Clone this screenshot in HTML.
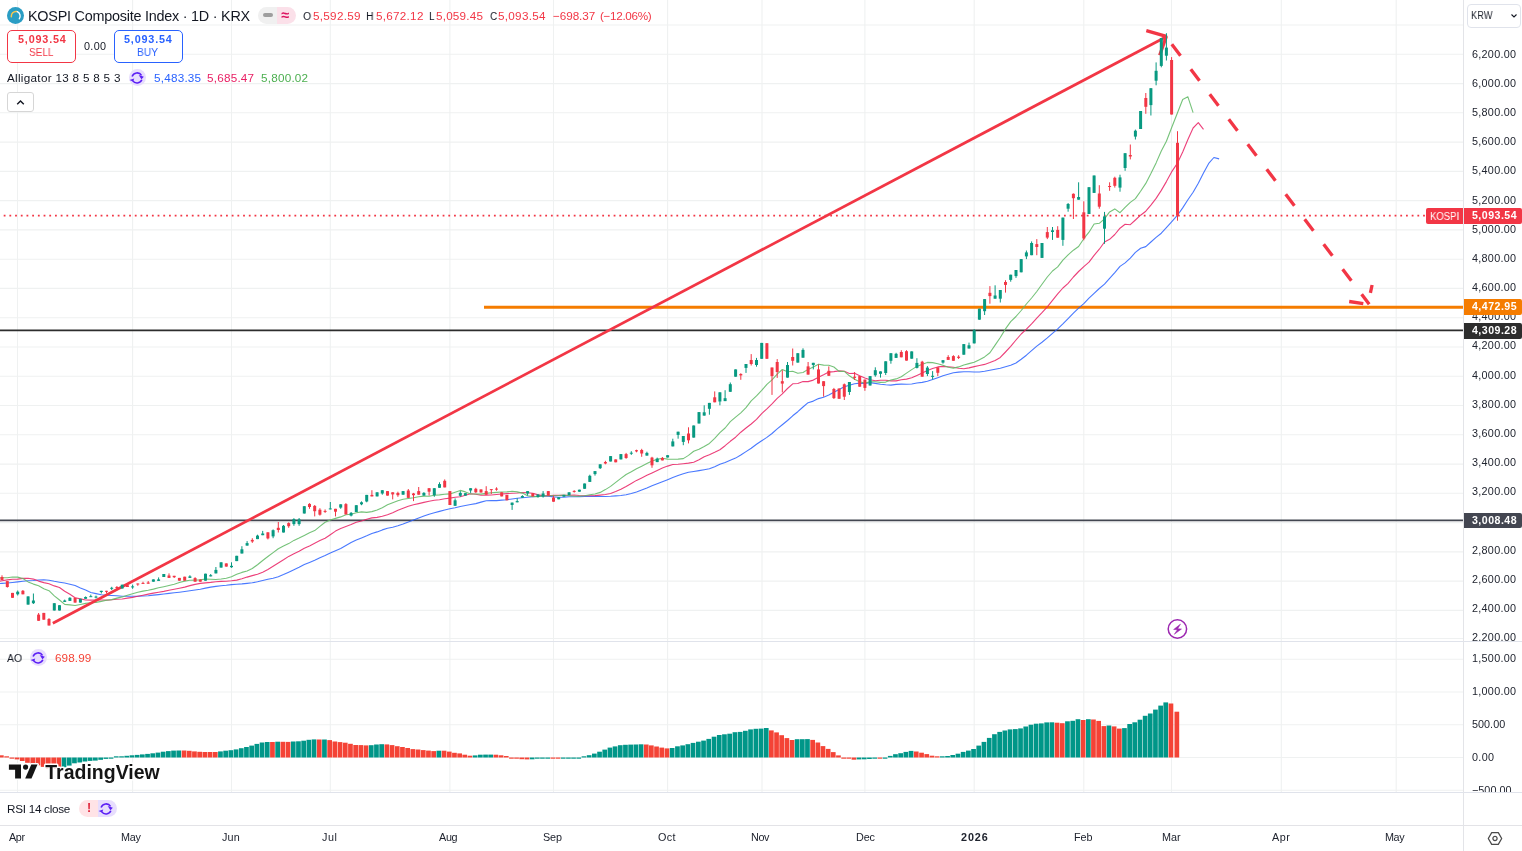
<!DOCTYPE html>
<html><head><meta charset="utf-8"><title>KOSPI Composite Index</title>
<style>
html,body{margin:0;padding:0;background:#fff;}
body{width:1522px;height:851px;position:relative;overflow:hidden;font-family:"Liberation Sans",sans-serif;color:#131722;}
.t{position:absolute;white-space:nowrap;line-height:1;will-change:transform;}
.pane{position:absolute;overflow:hidden;}
.lab{position:absolute;height:15.6px;border-radius:0 2px 2px 0;}
.b{position:absolute;box-sizing:border-box;}
</style></head><body>
<svg width="1522" height="851" viewBox="0 0 1522 851" style="position:absolute;left:0;top:0;will-change:transform">
<g stroke="#EFF1F1" stroke-width="1.1">
<line x1="17.5" y1="0" x2="17.5" y2="792"/>
<line x1="132.6" y1="0" x2="132.6" y2="792"/>
<line x1="231.5" y1="0" x2="231.5" y2="792"/>
<line x1="330.3" y1="0" x2="330.3" y2="792"/>
<line x1="449.9" y1="0" x2="449.9" y2="792"/>
<line x1="553.5" y1="0" x2="553.5" y2="792"/>
<line x1="667.6" y1="0" x2="667.6" y2="792"/>
<line x1="762.0" y1="0" x2="762.0" y2="792"/>
<line x1="864.9" y1="0" x2="864.9" y2="792"/>
<line x1="974.2" y1="0" x2="974.2" y2="792"/>
<line x1="1083.8" y1="0" x2="1083.8" y2="792"/>
<line x1="1171.5" y1="0" x2="1171.5" y2="792"/>
<line x1="1281.3" y1="0" x2="1281.3" y2="792"/>
<line x1="1396.2" y1="0" x2="1396.2" y2="792"/>
<line x1="0" y1="638.5" x2="1463" y2="638.5"/>
<line x1="0" y1="610.4" x2="1463" y2="610.4"/>
<line x1="0" y1="581.1" x2="1463" y2="581.1"/>
<line x1="0" y1="551.9" x2="1463" y2="551.9"/>
<line x1="0" y1="522.6" x2="1463" y2="522.6"/>
<line x1="0" y1="493.3" x2="1463" y2="493.3"/>
<line x1="0" y1="464.1" x2="1463" y2="464.1"/>
<line x1="0" y1="434.8" x2="1463" y2="434.8"/>
<line x1="0" y1="405.5" x2="1463" y2="405.5"/>
<line x1="0" y1="376.2" x2="1463" y2="376.2"/>
<line x1="0" y1="347.0" x2="1463" y2="347.0"/>
<line x1="0" y1="317.7" x2="1463" y2="317.7"/>
<line x1="0" y1="288.4" x2="1463" y2="288.4"/>
<line x1="0" y1="259.2" x2="1463" y2="259.2"/>
<line x1="0" y1="229.9" x2="1463" y2="229.9"/>
<line x1="0" y1="200.6" x2="1463" y2="200.6"/>
<line x1="0" y1="171.4" x2="1463" y2="171.4"/>
<line x1="0" y1="142.1" x2="1463" y2="142.1"/>
<line x1="0" y1="112.8" x2="1463" y2="112.8"/>
<line x1="0" y1="83.6" x2="1463" y2="83.6"/>
<line x1="0" y1="54.3" x2="1463" y2="54.3"/>
<line x1="0" y1="25.0" x2="1463" y2="25.0"/>
<line x1="0" y1="790.2" x2="1463" y2="790.2"/>
<line x1="0" y1="757.5" x2="1463" y2="757.5"/>
<line x1="0" y1="724.8" x2="1463" y2="724.8"/>
<line x1="0" y1="692.0" x2="1463" y2="692.0"/>
<line x1="0" y1="659.2" x2="1463" y2="659.2"/>
</g>
<clipPath id="mp"><rect x="0" y="0" width="1463" height="641"/></clipPath>
<g clip-path="url(#mp)">
<line x1="0" y1="520.35" x2="1463" y2="520.35" stroke="#434651" stroke-width="1.8"/>
<line x1="0" y1="330.4" x2="1463" y2="330.4" stroke="#2D2D2D" stroke-width="1.7"/>
<line x1="484" y1="307.25" x2="1463" y2="307.25" stroke="#F57C00" stroke-width="2.9"/>
<path d="M-8.4 583.8 L-3.2 583.8 L2.0 583.4 L7.3 583.0 L12.5 582.5 L17.7 581.9 L22.9 581.2 L28.1 580.8 L33.4 580.5 L38.6 580.0 L43.8 579.8 L49.0 580.2 L54.3 581.3 L59.5 582.2 L64.7 583.0 L69.9 584.3 L75.1 585.5 L80.4 587.9 L85.6 590.1 L90.8 592.5 L96.0 593.6 L101.3 594.7 L106.5 595.2 L111.7 595.5 L116.9 595.8 L122.2 596.2 L127.4 596.3 L132.6 596.3 L137.8 596.3 L143.0 596.0 L148.2 595.7 L153.4 595.1 L158.6 594.6 L163.8 594.0 L169.0 593.4 L174.2 592.8 L179.4 592.2 L184.7 591.5 L189.9 590.8 L195.1 590.0 L200.3 589.2 L205.5 588.1 L210.7 587.1 L215.9 586.4 L221.1 585.8 L226.3 585.3 L231.5 584.6 L236.7 584.2 L241.9 583.9 L247.1 583.4 L252.3 582.8 L257.5 581.8 L262.7 580.5 L267.9 579.3 L273.1 578.2 L278.3 576.7 L283.5 574.6 L288.7 572.2 L293.9 569.8 L299.1 567.3 L304.3 564.6 L309.5 562.4 L314.7 560.2 L319.9 557.7 L325.1 555.5 L330.3 553.1 L335.5 550.7 L340.7 548.5 L345.9 545.5 L351.1 542.5 L356.3 540.0 L361.5 537.9 L366.7 535.8 L371.9 533.5 L377.1 531.9 L382.3 529.9 L387.5 528.3 L392.7 527.2 L397.9 525.8 L403.1 524.1 L408.3 522.1 L413.5 519.9 L418.7 517.9 L423.9 516.0 L429.1 514.2 L434.3 512.8 L439.5 511.4 L444.7 510.0 L449.9 508.7 L455.1 507.8 L460.3 506.5 L465.4 505.5 L470.6 504.5 L475.8 503.6 L481.0 502.1 L486.2 500.7 L491.3 500.5 L496.5 500.6 L501.7 500.1 L506.9 499.7 L512.1 499.0 L517.2 498.3 L522.4 497.7 L527.6 497.2 L532.8 496.7 L538.0 496.1 L543.1 496.0 L548.3 496.1 L553.5 496.9 L558.7 497.2 L563.9 497.1 L569.1 496.8 L574.2 496.7 L579.4 496.6 L584.6 496.4 L589.8 496.2 L595.0 496.4 L600.2 496.5 L605.4 496.5 L610.6 496.3 L615.7 495.9 L620.9 495.5 L626.1 494.8 L631.3 493.5 L636.5 492.0 L641.7 490.0 L646.9 487.9 L652.0 485.7 L657.2 483.7 L662.4 481.7 L667.6 479.7 L672.8 477.6 L678.1 475.6 L683.3 473.8 L688.5 472.3 L693.7 471.5 L699.0 470.6 L704.2 469.7 L709.4 468.7 L714.7 466.7 L719.9 464.2 L725.1 462.4 L730.3 460.3 L735.6 458.1 L740.8 455.0 L746.0 451.6 L751.2 448.3 L756.5 444.3 L761.7 440.8 L766.9 437.4 L772.0 433.5 L777.2 428.9 L782.3 424.8 L787.5 420.5 L792.7 415.8 L797.8 411.7 L803.0 407.0 L808.1 402.7 L813.3 401.1 L818.5 398.6 L823.6 397.2 L828.8 395.1 L833.9 392.2 L839.1 389.5 L844.3 386.7 L849.4 385.3 L854.6 383.8 L859.7 383.1 L864.9 383.5 L870.1 382.6 L875.3 383.4 L880.5 384.2 L885.7 384.8 L890.9 385.1 L896.1 384.4 L901.3 384.1 L906.5 384.2 L911.7 384.0 L916.9 383.0 L922.2 382.4 L927.4 381.3 L932.6 379.5 L937.8 377.7 L943.0 375.8 L948.2 374.3 L953.4 372.8 L958.6 372.1 L963.8 371.8 L969.0 371.7 L974.2 372.0 L979.4 372.0 L984.6 371.2 L989.9 370.2 L995.1 369.2 L1000.3 368.3 L1005.5 366.8 L1010.7 365.2 L1016.0 363.0 L1021.2 359.2 L1026.4 355.2 L1031.6 350.6 L1036.8 346.1 L1042.0 342.2 L1047.3 337.9 L1052.5 333.3 L1057.7 328.8 L1062.9 323.9 L1068.1 318.6 L1073.4 313.2 L1078.6 308.1 L1083.8 303.7 L1089.0 298.2 L1094.1 293.3 L1099.3 288.5 L1104.5 284.2 L1109.6 278.3 L1114.8 272.7 L1120.0 266.4 L1125.1 262.9 L1130.3 258.1 L1135.4 252.4 L1140.6 248.2 L1145.8 246.6 L1150.9 242.0 L1156.1 237.4 L1161.3 233.2 L1166.4 227.7 L1171.6 221.9 L1177.5 215.2 L1182.7 207.9 L1187.9 199.8 L1193.1 192.3 L1198.3 183.2 L1203.5 173.1 L1208.7 163.4 L1213.9 157.5 L1219.1 158.9" fill="none" stroke="#2962FF" stroke-width="1.1" stroke-opacity=".85" stroke-linejoin="round"/>
<path d="M-8.4 582.5 L-3.2 581.6 L2.0 580.8 L7.3 579.9 L12.5 579.3 L17.7 579.1 L22.9 578.4 L28.1 578.3 L33.4 579.1 L38.6 581.1 L43.8 582.6 L49.0 583.8 L54.3 585.9 L59.5 587.5 L64.7 591.2 L69.9 594.3 L75.1 597.7 L80.4 598.9 L85.6 600.0 L90.8 600.1 L96.0 600.0 L101.3 600.0 L106.5 600.1 L111.7 599.8 L116.9 599.3 L122.2 599.0 L127.4 598.1 L132.6 597.4 L137.8 596.3 L143.0 595.2 L148.2 594.1 L153.4 593.1 L158.6 592.3 L163.8 591.4 L169.0 590.3 L174.2 589.3 L179.4 588.2 L184.7 587.1 L189.9 585.6 L195.1 584.4 L200.3 583.4 L205.5 582.9 L210.7 582.4 L215.9 581.7 L221.1 581.4 L226.3 581.3 L231.5 580.8 L236.7 580.1 L241.9 578.8 L247.1 577.1 L252.3 575.6 L257.5 574.3 L262.7 572.3 L267.9 569.5 L273.1 566.2 L278.3 563.0 L283.5 559.8 L288.7 556.4 L293.9 553.8 L299.1 551.3 L304.3 548.3 L309.5 545.9 L314.7 543.3 L319.9 540.6 L325.1 538.3 L330.3 534.7 L335.5 531.1 L340.7 528.6 L345.9 526.5 L351.1 524.6 L356.3 522.2 L361.5 521.0 L366.7 519.2 L371.9 517.9 L377.1 517.4 L382.3 516.3 L387.5 514.7 L392.7 512.7 L397.9 510.3 L403.1 508.3 L408.3 506.3 L413.5 504.7 L418.7 503.6 L423.9 502.4 L429.1 501.2 L434.3 500.3 L439.5 499.8 L444.7 498.7 L449.9 498.1 L455.1 497.3 L460.3 496.7 L465.4 495.3 L470.6 493.8 L475.8 494.3 L481.0 495.3 L486.2 495.1 L491.3 495.0 L496.5 494.5 L501.7 494.0 L506.9 493.6 L512.1 493.2 L517.2 493.0 L522.4 492.5 L527.6 492.7 L532.8 493.3 L538.0 494.9 L543.1 495.6 L548.3 495.7 L553.5 495.4 L558.7 495.3 L563.9 495.4 L569.1 495.3 L574.2 495.0 L579.4 495.5 L584.6 495.8 L589.8 495.8 L595.0 495.6 L600.2 495.1 L605.4 494.5 L610.6 493.5 L615.7 491.6 L620.9 489.3 L626.1 486.5 L631.3 483.5 L636.5 480.4 L641.7 477.9 L646.9 475.3 L652.0 472.9 L657.2 470.4 L662.4 468.0 L667.6 466.1 L672.8 464.5 L678.1 464.2 L683.3 463.7 L688.5 463.1 L693.7 462.2 L699.0 459.8 L704.2 456.7 L709.4 454.7 L714.7 452.3 L719.9 449.7 L725.1 445.7 L730.3 441.3 L735.6 437.2 L740.8 432.2 L746.0 428.0 L751.2 424.0 L756.5 419.4 L761.7 413.6 L766.9 408.9 L772.0 403.9 L777.2 398.4 L782.3 393.9 L787.5 388.5 L792.7 383.8 L797.8 383.5 L803.0 381.6 L808.1 381.6 L813.3 380.1 L818.5 377.2 L823.6 374.8 L828.8 372.1 L833.9 371.6 L839.1 370.9 L844.3 371.3 L849.4 373.5 L854.6 373.2 L859.7 375.7 L864.9 378.0 L870.1 379.7 L875.3 380.8 L880.5 380.2 L885.7 380.3 L890.9 380.9 L896.1 380.9 L901.3 379.8 L906.5 379.1 L911.7 377.8 L916.9 375.4 L922.2 372.9 L927.4 370.5 L932.6 368.6 L937.8 366.9 L943.0 366.4 L948.2 366.7 L953.4 367.3 L958.6 368.3 L963.8 368.7 L969.0 367.9 L974.2 366.6 L979.4 365.5 L984.6 364.4 L989.9 362.6 L995.1 360.4 L1000.3 357.4 L1005.5 352.0 L1010.7 346.4 L1016.0 340.0 L1021.2 334.0 L1026.4 329.2 L1031.6 323.9 L1036.8 318.2 L1042.0 312.7 L1047.3 306.8 L1052.5 300.3 L1057.7 293.8 L1062.9 288.0 L1068.1 283.3 L1073.4 277.0 L1078.6 271.5 L1083.8 266.6 L1089.0 262.2 L1094.1 255.4 L1099.3 249.2 L1104.5 242.0 L1109.6 239.3 L1114.8 234.5 L1120.0 228.2 L1125.1 224.3 L1130.3 224.7 L1135.4 220.0 L1140.6 215.2 L1145.8 211.2 L1150.9 205.1 L1156.1 198.4 L1161.3 190.4 L1166.4 181.6 L1171.6 171.9 L1177.5 163.1 L1182.7 152.0 L1187.9 139.5 L1193.1 128.0 L1198.3 122.7 L1203.5 129.3" fill="none" stroke="#E91E63" stroke-width="1.1" stroke-opacity=".85" stroke-linejoin="round"/>
<path d="M-8.4 579.6 L-3.2 578.4 L2.0 577.8 L7.3 577.8 L12.5 577.0 L17.7 577.1 L22.9 578.5 L28.1 581.9 L33.4 584.1 L38.6 585.7 L43.8 588.7 L49.0 590.7 L54.3 595.9 L59.5 600.0 L64.7 604.4 L69.9 604.9 L75.1 605.5 L80.4 604.5 L85.6 603.4 L90.8 602.8 L96.0 602.4 L101.3 601.4 L106.5 600.3 L111.7 599.6 L116.9 598.1 L122.2 596.9 L127.4 595.2 L132.6 593.7 L137.8 592.3 L143.0 591.1 L148.2 590.2 L153.4 589.1 L158.6 587.8 L163.8 586.7 L169.0 585.5 L174.2 584.2 L179.4 582.5 L184.7 581.1 L189.9 580.3 L195.1 580.1 L200.3 579.8 L205.5 579.1 L210.7 579.2 L215.9 579.5 L221.1 579.0 L226.3 578.3 L231.5 576.7 L236.7 574.3 L241.9 572.4 L247.1 571.0 L252.3 568.5 L257.5 564.7 L262.7 560.5 L267.9 556.5 L273.1 552.6 L278.3 548.7 L283.5 546.1 L288.7 543.6 L293.9 540.4 L299.1 538.0 L304.3 535.4 L309.5 532.8 L314.7 530.6 L319.9 526.4 L325.1 522.3 L330.3 520.0 L335.5 518.4 L340.7 516.9 L345.9 514.7 L351.1 514.3 L356.3 512.7 L361.5 511.9 L366.7 512.4 L371.9 511.6 L377.1 510.0 L382.3 507.7 L387.5 504.8 L392.7 502.7 L397.9 500.7 L403.1 499.2 L408.3 498.5 L413.5 497.7 L418.7 496.7 L423.9 496.1 L429.1 496.3 L434.3 495.2 L439.5 494.9 L444.7 494.3 L449.9 493.9 L455.1 492.2 L460.3 490.4 L465.4 491.9 L470.6 494.0 L475.8 494.0 L481.0 494.1 L486.2 493.4 L491.3 492.8 L496.5 492.4 L501.7 492.0 L506.9 491.9 L512.1 491.3 L517.2 491.9 L522.4 493.1 L527.6 495.7 L532.8 496.6 L538.0 496.6 L543.1 495.9 L548.3 495.7 L553.5 495.7 L558.7 495.5 L563.9 495.0 L569.1 495.8 L574.2 496.3 L579.4 496.2 L584.6 495.7 L589.8 494.8 L595.0 494.0 L600.2 492.4 L605.4 489.6 L610.6 486.4 L615.7 482.4 L620.9 478.4 L626.1 474.5 L631.3 471.8 L636.5 468.8 L641.7 466.2 L646.9 463.6 L652.0 461.0 L657.2 459.4 L662.4 458.2 L667.6 459.1 L672.8 459.2 L678.1 459.1 L683.3 458.6 L688.5 455.4 L693.7 451.3 L699.0 449.2 L704.2 446.4 L709.4 443.4 L714.7 438.3 L719.9 432.7 L725.1 428.0 L730.3 421.7 L735.6 417.1 L740.8 412.8 L746.0 407.7 L751.2 400.8 L756.5 395.9 L761.7 390.4 L766.9 384.3 L772.0 379.9 L777.2 374.1 L782.3 369.5 L787.5 371.8 L792.7 371.2 L797.8 373.2 L803.0 372.5 L808.1 369.4 L813.3 367.1 L818.5 364.3 L823.6 365.1 L828.8 365.3 L833.9 367.0 L839.1 371.4 L844.3 371.3 L849.4 375.8 L854.6 379.3 L859.7 381.8 L864.9 383.1 L870.1 381.7 L875.3 381.7 L880.5 382.4 L885.7 382.1 L890.9 380.0 L896.1 378.9 L901.3 376.8 L906.5 373.1 L911.7 369.6 L916.9 366.4 L922.2 364.2 L927.4 362.4 L932.6 362.6 L937.8 363.8 L943.0 365.3 L948.2 367.3 L953.4 368.1 L958.6 366.9 L963.8 365.0 L969.0 363.6 L974.2 362.3 L979.4 359.7 L984.6 356.9 L989.9 352.8 L995.1 345.1 L1000.3 337.5 L1005.5 328.9 L1010.7 321.6 L1016.0 316.5 L1021.2 310.5 L1026.4 304.0 L1031.6 298.0 L1036.8 291.5 L1042.0 284.2 L1047.3 277.0 L1052.5 271.0 L1057.7 266.9 L1062.9 260.1 L1068.1 254.8 L1073.4 250.2 L1078.6 246.5 L1083.8 238.7 L1089.0 232.2 L1094.1 224.0 L1099.3 223.3 L1104.5 218.8 L1109.6 211.9 L1114.8 208.9 L1120.0 212.7 L1125.1 207.4 L1130.3 202.4 L1135.4 198.6 L1140.6 191.2 L1145.8 183.4 L1150.9 173.6 L1156.1 162.9 L1161.3 151.0 L1166.4 141.2 L1171.6 127.7 L1177.5 112.7 L1182.7 99.5 L1187.9 96.8 L1193.1 112.6" fill="none" stroke="#66BB6A" stroke-width="1.1" stroke-opacity=".9" stroke-linejoin="round"/>
<line x1="3.7" y1="215.6" x2="1426" y2="215.6" stroke="#F23645" stroke-width="1.8" stroke-dasharray="1.8 3.9004"/>
<g stroke="#F23645" stroke-width="3.3" fill="none">
<line x1="52.8" y1="623.3" x2="1165.8" y2="37.0" stroke-width="2.75"/>
<polyline points="1146.3,30.6 1166.3,36.4 1159.7,55.3" stroke-linejoin="bevel"/>
<line x1="1171.8" y1="44.2" x2="1369.2" y2="304.3" stroke-dasharray="14.4 17"/>
<line x1="1349.2" y1="301.5" x2="1363.3" y2="303.6"/>
<line x1="1370.4" y1="292.9" x2="1372.1" y2="285.0"/>
</g>
<rect x="1.5" y="575.3" width="1" height="4.7" fill="#F23645"/>
<rect x="0.5" y="577.0" width="3" height="3.0" fill="#F23645"/>
<rect x="6.8" y="581.1" width="1" height="6.5" fill="#F23645"/>
<rect x="5.8" y="581.1" width="3" height="5.9" fill="#F23645"/>
<rect x="12.0" y="592.9" width="1" height="4.9" fill="#F23645"/>
<rect x="11.0" y="592.9" width="3" height="4.9" fill="#F23645"/>
<rect x="17.2" y="590.5" width="1" height="5.0" fill="#089981"/>
<rect x="16.2" y="591.7" width="3" height="2.6" fill="#089981"/>
<rect x="22.4" y="590.0" width="1" height="4.3" fill="#F23645"/>
<rect x="21.4" y="590.8" width="3" height="3.5" fill="#F23645"/>
<rect x="27.6" y="596.4" width="1" height="8.2" fill="#089981"/>
<rect x="26.6" y="596.4" width="3" height="8.2" fill="#089981"/>
<rect x="32.9" y="593.5" width="1" height="10.5" fill="#089981"/>
<rect x="31.9" y="600.5" width="3" height="2.7" fill="#089981"/>
<rect x="38.1" y="613.0" width="1" height="7.8" fill="#F23645"/>
<rect x="37.1" y="614.6" width="3" height="6.2" fill="#F23645"/>
<rect x="43.3" y="612.9" width="1" height="6.8" fill="#F23645"/>
<rect x="42.3" y="612.9" width="3" height="6.8" fill="#F23645"/>
<rect x="48.5" y="618.1" width="1" height="7.4" fill="#F23645"/>
<rect x="47.5" y="619.0" width="3" height="6.5" fill="#F23645"/>
<rect x="53.8" y="603.2" width="1" height="7.3" fill="#089981"/>
<rect x="52.8" y="603.2" width="3" height="7.3" fill="#089981"/>
<rect x="59.0" y="605.2" width="1" height="5.3" fill="#089981"/>
<rect x="58.0" y="605.2" width="3" height="5.3" fill="#089981"/>
<rect x="64.2" y="599.6" width="1" height="2.3" fill="#089981"/>
<rect x="63.2" y="600.5" width="3" height="1.4" fill="#089981"/>
<rect x="69.4" y="597.2" width="1" height="3.7" fill="#089981"/>
<rect x="68.4" y="597.8" width="3" height="3.1" fill="#089981"/>
<rect x="74.6" y="597.8" width="1" height="4.8" fill="#F23645"/>
<rect x="73.6" y="597.8" width="3" height="4.8" fill="#F23645"/>
<rect x="79.9" y="598.8" width="1" height="3.8" fill="#089981"/>
<rect x="78.9" y="598.8" width="3" height="3.8" fill="#089981"/>
<rect x="85.1" y="596.4" width="1" height="2.4" fill="#089981"/>
<rect x="84.1" y="597.0" width="3" height="1.8" fill="#089981"/>
<rect x="90.3" y="594.6" width="1" height="2.3" fill="#089981"/>
<rect x="89.3" y="596.2" width="3" height="1.0" fill="#089981"/>
<rect x="95.5" y="595.6" width="1" height="2.8" fill="#089981"/>
<rect x="94.5" y="596.6" width="3" height="1.0" fill="#089981"/>
<rect x="100.8" y="590.8" width="1" height="2.7" fill="#089981"/>
<rect x="99.8" y="590.8" width="3" height="1.2" fill="#089981"/>
<rect x="106.0" y="590.8" width="1" height="2.7" fill="#F23645"/>
<rect x="105.0" y="590.8" width="3" height="1.0" fill="#F23645"/>
<rect x="111.2" y="586.8" width="1" height="3.2" fill="#089981"/>
<rect x="110.2" y="587.8" width="3" height="1.0" fill="#089981"/>
<rect x="116.4" y="586.0" width="1" height="3.4" fill="#F23645"/>
<rect x="115.4" y="587.0" width="3" height="1.0" fill="#F23645"/>
<rect x="121.7" y="584.7" width="1" height="3.8" fill="#089981"/>
<rect x="120.7" y="584.7" width="3" height="3.8" fill="#089981"/>
<rect x="126.9" y="585.2" width="1" height="1.8" fill="#F23645"/>
<rect x="125.9" y="585.2" width="3" height="1.8" fill="#F23645"/>
<rect x="132.1" y="584.6" width="1" height="4.2" fill="#089981"/>
<rect x="131.1" y="586.4" width="3" height="1.0" fill="#089981"/>
<rect x="137.3" y="583.5" width="1" height="2.3" fill="#F23645"/>
<rect x="136.3" y="583.5" width="3" height="1.0" fill="#F23645"/>
<rect x="142.5" y="581.7" width="1" height="2.0" fill="#F23645"/>
<rect x="141.5" y="582.9" width="3" height="1.0" fill="#F23645"/>
<rect x="147.7" y="581.0" width="1" height="2.7" fill="#F23645"/>
<rect x="146.7" y="582.5" width="3" height="1.2" fill="#F23645"/>
<rect x="152.9" y="579.4" width="1" height="2.3" fill="#089981"/>
<rect x="151.9" y="579.4" width="3" height="2.3" fill="#089981"/>
<rect x="158.1" y="577.4" width="1" height="3.5" fill="#089981"/>
<rect x="157.1" y="579.4" width="3" height="1.5" fill="#089981"/>
<rect x="163.3" y="574.0" width="1" height="3.0" fill="#089981"/>
<rect x="162.3" y="574.0" width="3" height="3.0" fill="#089981"/>
<rect x="168.5" y="573.4" width="1" height="4.5" fill="#F23645"/>
<rect x="167.5" y="575.5" width="3" height="2.4" fill="#F23645"/>
<rect x="173.7" y="575.8" width="1" height="2.2" fill="#F23645"/>
<rect x="172.7" y="575.8" width="3" height="1.4" fill="#F23645"/>
<rect x="178.9" y="577.9" width="1" height="2.8" fill="#F23645"/>
<rect x="177.9" y="577.9" width="3" height="2.8" fill="#F23645"/>
<rect x="184.2" y="576.7" width="1" height="4.0" fill="#F23645"/>
<rect x="183.2" y="576.7" width="3" height="4.0" fill="#F23645"/>
<rect x="189.4" y="575.2" width="1" height="2.7" fill="#089981"/>
<rect x="188.4" y="576.4" width="3" height="1.5" fill="#089981"/>
<rect x="194.6" y="577.2" width="1" height="4.5" fill="#F23645"/>
<rect x="193.6" y="578.1" width="3" height="3.6" fill="#F23645"/>
<rect x="199.8" y="579.5" width="1" height="2.2" fill="#F23645"/>
<rect x="198.8" y="579.5" width="3" height="2.2" fill="#F23645"/>
<rect x="205.0" y="573.7" width="1" height="7.0" fill="#089981"/>
<rect x="204.0" y="573.7" width="3" height="7.0" fill="#089981"/>
<rect x="210.2" y="574.0" width="1" height="2.4" fill="#089981"/>
<rect x="209.2" y="575.2" width="3" height="1.2" fill="#089981"/>
<rect x="215.4" y="567.0" width="1" height="6.4" fill="#089981"/>
<rect x="214.4" y="569.9" width="3" height="3.5" fill="#089981"/>
<rect x="220.6" y="562.3" width="1" height="5.3" fill="#089981"/>
<rect x="219.6" y="562.3" width="3" height="5.3" fill="#089981"/>
<rect x="225.8" y="563.4" width="1" height="3.2" fill="#F23645"/>
<rect x="224.8" y="563.4" width="3" height="3.2" fill="#F23645"/>
<rect x="231.0" y="562.3" width="1" height="5.5" fill="#089981"/>
<rect x="230.0" y="565.8" width="3" height="1.4" fill="#089981"/>
<rect x="236.2" y="555.8" width="1" height="5.3" fill="#089981"/>
<rect x="235.2" y="555.8" width="3" height="5.3" fill="#089981"/>
<rect x="241.4" y="546.2" width="1" height="7.3" fill="#089981"/>
<rect x="240.4" y="549.3" width="3" height="4.2" fill="#089981"/>
<rect x="246.6" y="541.1" width="1" height="4.5" fill="#089981"/>
<rect x="245.6" y="543.1" width="3" height="2.5" fill="#089981"/>
<rect x="251.8" y="538.2" width="1" height="4.7" fill="#F23645"/>
<rect x="250.8" y="539.9" width="3" height="1.6" fill="#F23645"/>
<rect x="257.0" y="534.7" width="1" height="4.4" fill="#089981"/>
<rect x="256.0" y="535.6" width="3" height="3.5" fill="#089981"/>
<rect x="262.2" y="530.9" width="1" height="4.3" fill="#089981"/>
<rect x="261.2" y="533.5" width="3" height="1.7" fill="#089981"/>
<rect x="267.4" y="532.3" width="1" height="7.1" fill="#F23645"/>
<rect x="266.4" y="532.3" width="3" height="6.1" fill="#F23645"/>
<rect x="272.6" y="529.4" width="1" height="8.8" fill="#089981"/>
<rect x="271.6" y="530.2" width="3" height="6.2" fill="#089981"/>
<rect x="277.8" y="522.0" width="1" height="10.5" fill="#F23645"/>
<rect x="276.8" y="527.8" width="3" height="2.2" fill="#F23645"/>
<rect x="283.0" y="525.0" width="1" height="7.5" fill="#089981"/>
<rect x="282.0" y="525.8" width="3" height="6.7" fill="#089981"/>
<rect x="288.2" y="522.3" width="1" height="5.5" fill="#F23645"/>
<rect x="287.2" y="523.1" width="3" height="3.1" fill="#F23645"/>
<rect x="293.4" y="518.2" width="1" height="7.6" fill="#089981"/>
<rect x="292.4" y="519.1" width="3" height="5.0" fill="#089981"/>
<rect x="298.6" y="518.0" width="1" height="7.8" fill="#089981"/>
<rect x="297.6" y="519.4" width="3" height="4.7" fill="#089981"/>
<rect x="303.8" y="506.2" width="1" height="7.3" fill="#089981"/>
<rect x="302.8" y="506.2" width="3" height="7.3" fill="#089981"/>
<rect x="309.0" y="503.2" width="1" height="5.6" fill="#F23645"/>
<rect x="308.0" y="503.9" width="3" height="3.1" fill="#F23645"/>
<rect x="314.2" y="505.0" width="1" height="11.4" fill="#F23645"/>
<rect x="313.2" y="505.9" width="3" height="5.3" fill="#F23645"/>
<rect x="319.4" y="508.2" width="1" height="7.4" fill="#F23645"/>
<rect x="318.4" y="509.7" width="3" height="5.0" fill="#F23645"/>
<rect x="324.6" y="509.4" width="1" height="3.5" fill="#F23645"/>
<rect x="323.6" y="510.9" width="3" height="1.0" fill="#F23645"/>
<rect x="329.8" y="502.0" width="1" height="7.4" fill="#089981"/>
<rect x="328.8" y="508.4" width="3" height="1.0" fill="#089981"/>
<rect x="335.0" y="508.8" width="1" height="7.6" fill="#F23645"/>
<rect x="334.0" y="508.8" width="3" height="2.9" fill="#F23645"/>
<rect x="340.2" y="504.3" width="1" height="4.5" fill="#089981"/>
<rect x="339.2" y="504.3" width="3" height="3.3" fill="#089981"/>
<rect x="345.4" y="503.1" width="1" height="11.3" fill="#F23645"/>
<rect x="344.4" y="504.1" width="3" height="10.3" fill="#F23645"/>
<rect x="350.6" y="512.0" width="1" height="4.4" fill="#089981"/>
<rect x="349.6" y="512.9" width="3" height="2.7" fill="#089981"/>
<rect x="355.8" y="505.2" width="1" height="6.8" fill="#089981"/>
<rect x="354.8" y="505.2" width="3" height="6.8" fill="#089981"/>
<rect x="361.0" y="501.4" width="1" height="3.8" fill="#089981"/>
<rect x="360.0" y="502.3" width="3" height="2.0" fill="#089981"/>
<rect x="366.2" y="494.9" width="1" height="7.4" fill="#089981"/>
<rect x="365.2" y="494.9" width="3" height="6.6" fill="#089981"/>
<rect x="371.4" y="490.2" width="1" height="6.2" fill="#F23645"/>
<rect x="370.4" y="494.9" width="3" height="1.5" fill="#F23645"/>
<rect x="376.6" y="492.3" width="1" height="4.1" fill="#089981"/>
<rect x="375.6" y="492.3" width="3" height="4.1" fill="#089981"/>
<rect x="381.8" y="490.2" width="1" height="4.5" fill="#089981"/>
<rect x="380.8" y="490.2" width="3" height="3.3" fill="#089981"/>
<rect x="387.0" y="491.1" width="1" height="4.5" fill="#F23645"/>
<rect x="386.0" y="491.1" width="3" height="4.5" fill="#F23645"/>
<rect x="392.2" y="492.3" width="1" height="7.1" fill="#F23645"/>
<rect x="391.2" y="492.3" width="3" height="2.1" fill="#F23645"/>
<rect x="397.4" y="491.7" width="1" height="5.1" fill="#F23645"/>
<rect x="396.4" y="492.9" width="3" height="2.3" fill="#F23645"/>
<rect x="402.6" y="491.1" width="1" height="3.6" fill="#089981"/>
<rect x="401.6" y="491.1" width="3" height="3.6" fill="#089981"/>
<rect x="407.8" y="489.0" width="1" height="8.9" fill="#F23645"/>
<rect x="406.8" y="490.5" width="3" height="7.4" fill="#F23645"/>
<rect x="413.0" y="492.9" width="1" height="8.2" fill="#F23645"/>
<rect x="412.0" y="493.5" width="3" height="1.7" fill="#F23645"/>
<rect x="418.2" y="487.0" width="1" height="7.7" fill="#F23645"/>
<rect x="417.2" y="491.1" width="3" height="3.6" fill="#F23645"/>
<rect x="423.4" y="492.1" width="1" height="3.5" fill="#089981"/>
<rect x="422.4" y="492.9" width="3" height="2.7" fill="#089981"/>
<rect x="428.6" y="488.2" width="1" height="7.4" fill="#F23645"/>
<rect x="427.6" y="488.2" width="3" height="3.5" fill="#F23645"/>
<rect x="433.8" y="488.2" width="1" height="8.6" fill="#089981"/>
<rect x="432.8" y="488.2" width="3" height="7.0" fill="#089981"/>
<rect x="439.0" y="482.3" width="1" height="5.5" fill="#089981"/>
<rect x="438.0" y="484.1" width="3" height="3.7" fill="#089981"/>
<rect x="444.2" y="479.4" width="1" height="8.0" fill="#F23645"/>
<rect x="443.2" y="480.8" width="3" height="6.6" fill="#F23645"/>
<rect x="449.4" y="491.1" width="1" height="13.9" fill="#F23645"/>
<rect x="448.4" y="491.1" width="3" height="13.9" fill="#F23645"/>
<rect x="454.6" y="498.4" width="1" height="7.4" fill="#089981"/>
<rect x="453.6" y="500.3" width="3" height="5.5" fill="#089981"/>
<rect x="459.8" y="491.1" width="1" height="5.7" fill="#089981"/>
<rect x="458.8" y="492.9" width="3" height="2.9" fill="#089981"/>
<rect x="464.9" y="493.2" width="1" height="2.4" fill="#089981"/>
<rect x="463.9" y="493.2" width="3" height="2.4" fill="#089981"/>
<rect x="470.1" y="488.2" width="1" height="4.7" fill="#089981"/>
<rect x="469.1" y="488.2" width="3" height="2.3" fill="#089981"/>
<rect x="475.3" y="487.8" width="1" height="5.1" fill="#F23645"/>
<rect x="474.3" y="488.8" width="3" height="3.5" fill="#F23645"/>
<rect x="480.5" y="489.4" width="1" height="3.1" fill="#F23645"/>
<rect x="479.5" y="489.4" width="3" height="3.1" fill="#F23645"/>
<rect x="485.7" y="486.2" width="1" height="8.5" fill="#F23645"/>
<rect x="484.7" y="491.1" width="3" height="3.6" fill="#F23645"/>
<rect x="490.8" y="489.1" width="1" height="4.9" fill="#F23645"/>
<rect x="489.8" y="489.1" width="3" height="1.0" fill="#F23645"/>
<rect x="496.0" y="487.3" width="1" height="3.4" fill="#F23645"/>
<rect x="495.0" y="488.6" width="3" height="1.0" fill="#F23645"/>
<rect x="501.2" y="492.3" width="1" height="4.1" fill="#F23645"/>
<rect x="500.2" y="492.3" width="3" height="4.1" fill="#F23645"/>
<rect x="506.4" y="494.9" width="1" height="5.4" fill="#F23645"/>
<rect x="505.4" y="494.9" width="3" height="5.4" fill="#F23645"/>
<rect x="511.6" y="502.6" width="1" height="7.3" fill="#089981"/>
<rect x="510.6" y="502.6" width="3" height="2.4" fill="#089981"/>
<rect x="516.7" y="498.2" width="1" height="4.1" fill="#089981"/>
<rect x="515.7" y="501.1" width="3" height="1.2" fill="#089981"/>
<rect x="521.9" y="495.2" width="1" height="2.5" fill="#089981"/>
<rect x="520.9" y="496.0" width="3" height="1.7" fill="#089981"/>
<rect x="527.1" y="491.1" width="1" height="4.5" fill="#089981"/>
<rect x="526.1" y="491.1" width="3" height="2.4" fill="#089981"/>
<rect x="532.3" y="493.2" width="1" height="3.2" fill="#F23645"/>
<rect x="531.3" y="493.2" width="3" height="3.2" fill="#F23645"/>
<rect x="537.5" y="494.0" width="1" height="3.6" fill="#089981"/>
<rect x="536.5" y="494.6" width="3" height="2.4" fill="#089981"/>
<rect x="542.6" y="491.1" width="1" height="6.5" fill="#089981"/>
<rect x="541.6" y="493.5" width="3" height="2.9" fill="#089981"/>
<rect x="547.8" y="491.1" width="1" height="4.5" fill="#F23645"/>
<rect x="546.8" y="491.1" width="3" height="4.5" fill="#F23645"/>
<rect x="553.0" y="495.8" width="1" height="5.9" fill="#F23645"/>
<rect x="552.0" y="497.6" width="3" height="4.1" fill="#F23645"/>
<rect x="558.2" y="497.2" width="1" height="2.1" fill="#089981"/>
<rect x="557.2" y="497.2" width="3" height="2.1" fill="#089981"/>
<rect x="563.4" y="494.9" width="1" height="1.8" fill="#089981"/>
<rect x="562.4" y="494.9" width="3" height="1.8" fill="#089981"/>
<rect x="568.6" y="492.3" width="1" height="2.9" fill="#089981"/>
<rect x="567.6" y="492.3" width="3" height="2.9" fill="#089981"/>
<rect x="573.7" y="490.2" width="1" height="2.4" fill="#F23645"/>
<rect x="572.7" y="490.9" width="3" height="1.0" fill="#F23645"/>
<rect x="578.9" y="489.7" width="1" height="2.0" fill="#089981"/>
<rect x="577.9" y="489.7" width="3" height="2.0" fill="#089981"/>
<rect x="584.1" y="483.5" width="1" height="5.3" fill="#089981"/>
<rect x="583.1" y="483.5" width="3" height="5.3" fill="#089981"/>
<rect x="589.3" y="474.7" width="1" height="7.2" fill="#089981"/>
<rect x="588.3" y="475.8" width="3" height="6.1" fill="#089981"/>
<rect x="594.5" y="471.1" width="1" height="4.5" fill="#089981"/>
<rect x="593.5" y="471.1" width="3" height="3.0" fill="#089981"/>
<rect x="599.7" y="464.3" width="1" height="4.7" fill="#089981"/>
<rect x="598.7" y="464.3" width="3" height="3.9" fill="#089981"/>
<rect x="604.9" y="460.8" width="1" height="3.5" fill="#F23645"/>
<rect x="603.9" y="462.0" width="3" height="1.5" fill="#F23645"/>
<rect x="610.1" y="456.1" width="1" height="5.4" fill="#089981"/>
<rect x="609.1" y="456.1" width="3" height="5.4" fill="#089981"/>
<rect x="615.2" y="459.4" width="1" height="2.9" fill="#F23645"/>
<rect x="614.2" y="459.4" width="3" height="2.9" fill="#F23645"/>
<rect x="620.4" y="454.1" width="1" height="5.3" fill="#089981"/>
<rect x="619.4" y="454.1" width="3" height="5.3" fill="#089981"/>
<rect x="625.6" y="452.9" width="1" height="5.9" fill="#F23645"/>
<rect x="624.6" y="454.1" width="3" height="3.9" fill="#F23645"/>
<rect x="630.8" y="451.2" width="1" height="3.7" fill="#089981"/>
<rect x="629.8" y="452.7" width="3" height="1.0" fill="#089981"/>
<rect x="636.0" y="449.7" width="1" height="2.6" fill="#F23645"/>
<rect x="635.0" y="450.2" width="3" height="1.2" fill="#F23645"/>
<rect x="641.2" y="448.8" width="1" height="8.0" fill="#F23645"/>
<rect x="640.2" y="450.0" width="3" height="3.5" fill="#F23645"/>
<rect x="646.4" y="451.7" width="1" height="3.9" fill="#089981"/>
<rect x="645.4" y="452.9" width="3" height="2.7" fill="#089981"/>
<rect x="651.5" y="456.8" width="1" height="11.0" fill="#F23645"/>
<rect x="650.5" y="457.6" width="3" height="7.7" fill="#F23645"/>
<rect x="656.7" y="457.6" width="1" height="4.5" fill="#089981"/>
<rect x="655.7" y="458.6" width="3" height="3.5" fill="#089981"/>
<rect x="661.9" y="457.0" width="1" height="3.4" fill="#F23645"/>
<rect x="660.9" y="458.0" width="3" height="2.4" fill="#F23645"/>
<rect x="667.1" y="455.2" width="1" height="2.3" fill="#089981"/>
<rect x="666.1" y="455.2" width="3" height="2.3" fill="#089981"/>
<rect x="672.3" y="438.7" width="1" height="7.7" fill="#089981"/>
<rect x="671.3" y="441.4" width="3" height="5.0" fill="#089981"/>
<rect x="677.6" y="431.7" width="1" height="7.0" fill="#089981"/>
<rect x="676.6" y="431.7" width="3" height="3.2" fill="#089981"/>
<rect x="682.8" y="436.0" width="1" height="9.2" fill="#089981"/>
<rect x="681.8" y="436.0" width="3" height="5.9" fill="#089981"/>
<rect x="688.0" y="427.3" width="1" height="16.1" fill="#F23645"/>
<rect x="687.0" y="433.5" width="3" height="6.8" fill="#F23645"/>
<rect x="693.2" y="425.5" width="1" height="12.1" fill="#089981"/>
<rect x="692.2" y="425.5" width="3" height="12.1" fill="#089981"/>
<rect x="698.5" y="412.1" width="1" height="11.4" fill="#089981"/>
<rect x="697.5" y="412.1" width="3" height="11.4" fill="#089981"/>
<rect x="703.7" y="405.3" width="1" height="10.3" fill="#089981"/>
<rect x="702.7" y="412.3" width="3" height="3.3" fill="#089981"/>
<rect x="708.9" y="402.9" width="1" height="11.8" fill="#089981"/>
<rect x="707.9" y="402.9" width="3" height="5.9" fill="#089981"/>
<rect x="714.2" y="391.4" width="1" height="10.9" fill="#F23645"/>
<rect x="713.2" y="397.3" width="3" height="5.0" fill="#F23645"/>
<rect x="719.4" y="392.3" width="1" height="13.0" fill="#089981"/>
<rect x="718.4" y="392.3" width="3" height="9.2" fill="#089981"/>
<rect x="724.6" y="390.2" width="1" height="10.9" fill="#089981"/>
<rect x="723.6" y="398.2" width="3" height="2.9" fill="#089981"/>
<rect x="729.8" y="382.5" width="1" height="9.3" fill="#089981"/>
<rect x="728.8" y="384.2" width="3" height="7.6" fill="#089981"/>
<rect x="735.1" y="369.4" width="1" height="7.3" fill="#089981"/>
<rect x="734.1" y="369.4" width="3" height="7.3" fill="#089981"/>
<rect x="740.3" y="373.2" width="1" height="6.6" fill="#F23645"/>
<rect x="739.3" y="374.0" width="3" height="1.4" fill="#F23645"/>
<rect x="745.5" y="364.0" width="1" height="8.9" fill="#089981"/>
<rect x="744.5" y="364.0" width="3" height="3.9" fill="#089981"/>
<rect x="750.7" y="354.1" width="1" height="11.4" fill="#F23645"/>
<rect x="749.7" y="360.0" width="3" height="4.0" fill="#F23645"/>
<rect x="756.0" y="357.9" width="1" height="8.8" fill="#089981"/>
<rect x="755.0" y="360.0" width="3" height="5.0" fill="#089981"/>
<rect x="761.2" y="342.9" width="1" height="15.9" fill="#089981"/>
<rect x="760.2" y="342.9" width="3" height="15.9" fill="#089981"/>
<rect x="766.4" y="343.2" width="1" height="15.6" fill="#F23645"/>
<rect x="765.4" y="343.2" width="3" height="15.6" fill="#F23645"/>
<rect x="771.5" y="367.5" width="1" height="27.4" fill="#F23645"/>
<rect x="770.5" y="367.5" width="3" height="8.6" fill="#F23645"/>
<rect x="776.7" y="359.1" width="1" height="18.8" fill="#F23645"/>
<rect x="775.7" y="362.0" width="3" height="10.0" fill="#F23645"/>
<rect x="781.8" y="370.2" width="1" height="22.2" fill="#F23645"/>
<rect x="780.8" y="381.2" width="3" height="2.4" fill="#F23645"/>
<rect x="787.0" y="362.0" width="1" height="15.6" fill="#089981"/>
<rect x="786.0" y="365.0" width="3" height="12.6" fill="#089981"/>
<rect x="792.2" y="348.5" width="1" height="17.0" fill="#F23645"/>
<rect x="791.2" y="357.0" width="3" height="3.8" fill="#F23645"/>
<rect x="797.3" y="353.2" width="1" height="9.4" fill="#089981"/>
<rect x="796.3" y="353.2" width="3" height="9.4" fill="#089981"/>
<rect x="802.5" y="348.3" width="1" height="9.4" fill="#089981"/>
<rect x="801.5" y="349.9" width="3" height="7.8" fill="#089981"/>
<rect x="807.6" y="362.0" width="1" height="12.6" fill="#F23645"/>
<rect x="806.6" y="366.4" width="3" height="8.2" fill="#F23645"/>
<rect x="812.8" y="362.8" width="1" height="6.6" fill="#089981"/>
<rect x="811.8" y="362.8" width="3" height="2.2" fill="#089981"/>
<rect x="818.0" y="364.4" width="1" height="19.1" fill="#F23645"/>
<rect x="817.0" y="369.4" width="3" height="14.1" fill="#F23645"/>
<rect x="823.1" y="381.2" width="1" height="15.5" fill="#F23645"/>
<rect x="822.1" y="381.2" width="3" height="4.9" fill="#F23645"/>
<rect x="828.3" y="366.4" width="1" height="9.4" fill="#F23645"/>
<rect x="827.3" y="370.8" width="3" height="5.0" fill="#F23645"/>
<rect x="833.4" y="387.9" width="1" height="11.1" fill="#F23645"/>
<rect x="832.4" y="389.0" width="3" height="9.1" fill="#F23645"/>
<rect x="838.6" y="388.5" width="1" height="10.3" fill="#F23645"/>
<rect x="837.6" y="388.5" width="3" height="10.3" fill="#F23645"/>
<rect x="843.8" y="383.5" width="1" height="16.5" fill="#F23645"/>
<rect x="842.8" y="384.3" width="3" height="12.4" fill="#F23645"/>
<rect x="848.9" y="382.0" width="1" height="12.9" fill="#089981"/>
<rect x="847.9" y="382.0" width="3" height="10.0" fill="#089981"/>
<rect x="854.1" y="372.0" width="1" height="8.0" fill="#F23645"/>
<rect x="853.1" y="376.7" width="3" height="1.2" fill="#F23645"/>
<rect x="859.2" y="376.1" width="1" height="10.6" fill="#F23645"/>
<rect x="858.2" y="376.1" width="3" height="10.6" fill="#F23645"/>
<rect x="864.4" y="379.6" width="1" height="11.2" fill="#F23645"/>
<rect x="863.4" y="379.6" width="3" height="8.3" fill="#F23645"/>
<rect x="869.6" y="376.1" width="1" height="9.4" fill="#089981"/>
<rect x="868.6" y="376.1" width="3" height="9.4" fill="#089981"/>
<rect x="874.8" y="367.3" width="1" height="9.4" fill="#089981"/>
<rect x="873.8" y="370.2" width="3" height="5.1" fill="#089981"/>
<rect x="880.0" y="371.4" width="1" height="6.2" fill="#089981"/>
<rect x="879.0" y="371.4" width="3" height="2.4" fill="#089981"/>
<rect x="885.2" y="361.3" width="1" height="13.7" fill="#089981"/>
<rect x="884.2" y="361.3" width="3" height="11.7" fill="#089981"/>
<rect x="890.4" y="353.2" width="1" height="10.5" fill="#089981"/>
<rect x="889.4" y="353.2" width="3" height="7.6" fill="#089981"/>
<rect x="895.6" y="352.8" width="1" height="5.1" fill="#089981"/>
<rect x="894.6" y="353.8" width="3" height="4.1" fill="#089981"/>
<rect x="900.8" y="350.2" width="1" height="7.1" fill="#F23645"/>
<rect x="899.8" y="352.0" width="3" height="5.3" fill="#F23645"/>
<rect x="906.0" y="350.2" width="1" height="10.4" fill="#F23645"/>
<rect x="905.0" y="351.2" width="3" height="9.4" fill="#F23645"/>
<rect x="911.2" y="351.4" width="1" height="7.3" fill="#089981"/>
<rect x="910.2" y="351.4" width="3" height="7.3" fill="#089981"/>
<rect x="916.4" y="358.2" width="1" height="10.2" fill="#089981"/>
<rect x="915.4" y="362.9" width="3" height="5.0" fill="#089981"/>
<rect x="921.7" y="360.8" width="1" height="15.9" fill="#F23645"/>
<rect x="920.7" y="361.7" width="3" height="15.0" fill="#F23645"/>
<rect x="926.9" y="366.1" width="1" height="10.0" fill="#089981"/>
<rect x="925.9" y="367.6" width="3" height="6.4" fill="#089981"/>
<rect x="932.1" y="371.1" width="1" height="8.3" fill="#089981"/>
<rect x="931.1" y="375.8" width="3" height="1.1" fill="#089981"/>
<rect x="937.3" y="367.3" width="1" height="8.8" fill="#F23645"/>
<rect x="936.3" y="367.3" width="3" height="5.5" fill="#F23645"/>
<rect x="942.5" y="360.2" width="1" height="3.5" fill="#089981"/>
<rect x="941.5" y="360.2" width="3" height="2.4" fill="#089981"/>
<rect x="947.7" y="355.2" width="1" height="4.7" fill="#F23645"/>
<rect x="946.7" y="357.0" width="3" height="2.9" fill="#F23645"/>
<rect x="952.9" y="355.2" width="1" height="5.6" fill="#F23645"/>
<rect x="951.9" y="356.1" width="3" height="4.7" fill="#F23645"/>
<rect x="958.1" y="355.2" width="1" height="3.8" fill="#F23645"/>
<rect x="957.1" y="356.7" width="3" height="1.2" fill="#F23645"/>
<rect x="963.3" y="344.1" width="1" height="10.6" fill="#089981"/>
<rect x="962.3" y="344.1" width="3" height="10.6" fill="#089981"/>
<rect x="968.5" y="342.6" width="1" height="5.9" fill="#089981"/>
<rect x="967.5" y="345.3" width="3" height="3.2" fill="#089981"/>
<rect x="973.7" y="329.1" width="1" height="14.3" fill="#089981"/>
<rect x="972.7" y="330.3" width="3" height="13.1" fill="#089981"/>
<rect x="978.9" y="308.7" width="1" height="11.0" fill="#089981"/>
<rect x="977.9" y="308.7" width="3" height="11.0" fill="#089981"/>
<rect x="984.1" y="299.1" width="1" height="15.9" fill="#089981"/>
<rect x="983.1" y="299.1" width="3" height="12.1" fill="#089981"/>
<rect x="989.4" y="286.1" width="1" height="17.6" fill="#F23645"/>
<rect x="988.4" y="292.8" width="3" height="3.3" fill="#F23645"/>
<rect x="994.6" y="285.3" width="1" height="13.4" fill="#089981"/>
<rect x="993.6" y="295.5" width="3" height="3.2" fill="#089981"/>
<rect x="999.8" y="290.0" width="1" height="12.5" fill="#089981"/>
<rect x="998.8" y="290.0" width="3" height="8.7" fill="#089981"/>
<rect x="1005.0" y="280.2" width="1" height="12.4" fill="#F23645"/>
<rect x="1004.0" y="282.0" width="3" height="2.9" fill="#F23645"/>
<rect x="1010.2" y="274.7" width="1" height="7.0" fill="#089981"/>
<rect x="1009.2" y="274.7" width="3" height="5.2" fill="#089981"/>
<rect x="1015.5" y="270.0" width="1" height="7.9" fill="#089981"/>
<rect x="1014.5" y="270.0" width="3" height="6.1" fill="#089981"/>
<rect x="1020.7" y="259.1" width="1" height="13.2" fill="#089981"/>
<rect x="1019.7" y="259.1" width="3" height="13.2" fill="#089981"/>
<rect x="1025.9" y="250.5" width="1" height="8.6" fill="#089981"/>
<rect x="1024.9" y="252.4" width="3" height="4.0" fill="#089981"/>
<rect x="1031.1" y="241.4" width="1" height="13.8" fill="#089981"/>
<rect x="1030.1" y="243.0" width="3" height="12.2" fill="#089981"/>
<rect x="1036.3" y="239.1" width="1" height="16.1" fill="#F23645"/>
<rect x="1035.3" y="244.1" width="3" height="2.9" fill="#F23645"/>
<rect x="1041.5" y="243.0" width="1" height="14.9" fill="#089981"/>
<rect x="1040.5" y="243.0" width="3" height="14.9" fill="#089981"/>
<rect x="1046.8" y="227.0" width="1" height="12.1" fill="#F23645"/>
<rect x="1045.8" y="232.1" width="3" height="5.5" fill="#F23645"/>
<rect x="1052.0" y="227.0" width="1" height="12.9" fill="#089981"/>
<rect x="1051.0" y="230.3" width="3" height="1.7" fill="#089981"/>
<rect x="1057.2" y="226.2" width="1" height="11.5" fill="#F23645"/>
<rect x="1056.2" y="229.9" width="3" height="7.8" fill="#F23645"/>
<rect x="1062.4" y="217.6" width="1" height="28.2" fill="#089981"/>
<rect x="1061.4" y="217.6" width="3" height="22.3" fill="#089981"/>
<rect x="1067.6" y="203.0" width="1" height="8.7" fill="#089981"/>
<rect x="1066.6" y="204.0" width="3" height="4.7" fill="#089981"/>
<rect x="1072.9" y="193.4" width="1" height="25.6" fill="#F23645"/>
<rect x="1071.9" y="193.8" width="3" height="4.4" fill="#F23645"/>
<rect x="1078.1" y="182.3" width="1" height="17.4" fill="#089981"/>
<rect x="1077.1" y="197.0" width="3" height="2.7" fill="#089981"/>
<rect x="1083.3" y="201.3" width="1" height="39.0" fill="#F23645"/>
<rect x="1082.3" y="212.3" width="3" height="26.2" fill="#F23645"/>
<rect x="1088.5" y="187.2" width="1" height="26.8" fill="#089981"/>
<rect x="1087.5" y="187.2" width="3" height="26.8" fill="#089981"/>
<rect x="1093.6" y="175.5" width="1" height="17.4" fill="#089981"/>
<rect x="1092.6" y="175.5" width="3" height="17.4" fill="#089981"/>
<rect x="1098.8" y="185.2" width="1" height="23.5" fill="#F23645"/>
<rect x="1097.8" y="193.5" width="3" height="13.2" fill="#F23645"/>
<rect x="1104.0" y="211.9" width="1" height="31.9" fill="#089981"/>
<rect x="1103.0" y="216.4" width="3" height="12.3" fill="#089981"/>
<rect x="1109.1" y="182.3" width="1" height="8.5" fill="#F23645"/>
<rect x="1108.1" y="186.0" width="3" height="1.0" fill="#F23645"/>
<rect x="1114.3" y="176.7" width="1" height="10.9" fill="#F23645"/>
<rect x="1113.3" y="177.8" width="3" height="8.0" fill="#F23645"/>
<rect x="1119.5" y="174.7" width="1" height="17.0" fill="#089981"/>
<rect x="1118.5" y="177.4" width="3" height="10.2" fill="#089981"/>
<rect x="1124.6" y="153.2" width="1" height="17.6" fill="#089981"/>
<rect x="1123.6" y="153.2" width="3" height="14.8" fill="#089981"/>
<rect x="1129.8" y="144.5" width="1" height="14.9" fill="#F23645"/>
<rect x="1128.8" y="155.0" width="3" height="1.5" fill="#F23645"/>
<rect x="1134.9" y="129.6" width="1" height="9.9" fill="#089981"/>
<rect x="1133.9" y="130.7" width="3" height="5.9" fill="#089981"/>
<rect x="1140.1" y="111.0" width="1" height="18.0" fill="#089981"/>
<rect x="1139.1" y="111.0" width="3" height="18.0" fill="#089981"/>
<rect x="1145.3" y="93.0" width="1" height="20.8" fill="#F23645"/>
<rect x="1144.3" y="98.0" width="3" height="8.8" fill="#F23645"/>
<rect x="1150.4" y="88.2" width="1" height="27.3" fill="#089981"/>
<rect x="1149.4" y="88.2" width="3" height="16.9" fill="#089981"/>
<rect x="1155.6" y="62.4" width="1" height="22.9" fill="#089981"/>
<rect x="1154.6" y="70.8" width="3" height="9.9" fill="#089981"/>
<rect x="1160.8" y="38.0" width="1" height="29.3" fill="#089981"/>
<rect x="1159.8" y="38.0" width="3" height="27.9" fill="#089981"/>
<rect x="1165.9" y="33.2" width="1" height="27.3" fill="#089981"/>
<rect x="1164.9" y="47.6" width="3" height="8.1" fill="#089981"/>
<rect x="1171.1" y="57.1" width="1" height="57.4" fill="#F23645"/>
<rect x="1170.1" y="60.0" width="3" height="54.5" fill="#F23645"/>
<rect x="1177.0" y="131.2" width="1" height="89.5" fill="#F23645"/>
<rect x="1176.0" y="142.8" width="3" height="72.9" fill="#F23645"/>
</g>
<g transform="translate(1177.4,629)"><circle r="9.2" fill="#fff" stroke="#9C27B0" stroke-width="1.5"/><path d="M3.1 -4.9L-3.8 0.5L0 0.65L-3.1 5.3L4.1 0L0.3 -0.3Z" fill="#9C27B0" stroke="#9C27B0" stroke-width="0.5" stroke-linejoin="round"/></g>
<rect x="-1.0" y="755.3" width="4.7" height="2.2" fill="#F44336"/>
<rect x="4.3" y="756.3" width="4.7" height="1.2" fill="#F44336"/>
<rect x="9.5" y="757.5" width="4.7" height="1.2" fill="#F44336"/>
<rect x="14.7" y="757.5" width="4.7" height="1.9" fill="#F44336"/>
<rect x="19.9" y="757.5" width="4.7" height="3.5" fill="#F44336"/>
<rect x="25.1" y="757.5" width="4.7" height="5.3" fill="#F44336"/>
<rect x="30.4" y="757.5" width="4.7" height="6.4" fill="#F44336"/>
<rect x="35.6" y="757.5" width="4.7" height="7.8" fill="#F44336"/>
<rect x="40.8" y="757.5" width="4.7" height="9.4" fill="#F44336"/>
<rect x="46.0" y="757.5" width="4.7" height="11.3" fill="#F44336"/>
<rect x="51.3" y="757.5" width="4.7" height="11.5" fill="#F44336"/>
<rect x="56.5" y="757.5" width="4.7" height="11.8" fill="#F44336"/>
<rect x="61.7" y="757.5" width="4.7" height="10.0" fill="#009688"/>
<rect x="66.9" y="757.5" width="4.7" height="8.1" fill="#009688"/>
<rect x="72.1" y="757.5" width="4.7" height="5.8" fill="#009688"/>
<rect x="77.4" y="757.5" width="4.7" height="5.0" fill="#009688"/>
<rect x="82.6" y="757.5" width="4.7" height="4.0" fill="#009688"/>
<rect x="87.8" y="757.5" width="4.7" height="3.4" fill="#009688"/>
<rect x="93.0" y="757.5" width="4.7" height="3.1" fill="#009688"/>
<rect x="98.3" y="757.5" width="4.7" height="2.3" fill="#009688"/>
<rect x="103.5" y="757.5" width="4.7" height="1.4" fill="#009688"/>
<rect x="108.7" y="757.5" width="4.7" height="1.2" fill="#009688"/>
<rect x="113.9" y="756.3" width="4.7" height="1.2" fill="#009688"/>
<rect x="119.2" y="756.3" width="4.7" height="1.2" fill="#009688"/>
<rect x="124.4" y="755.8" width="4.7" height="1.7" fill="#009688"/>
<rect x="129.6" y="755.3" width="4.7" height="2.2" fill="#009688"/>
<rect x="134.8" y="754.9" width="4.7" height="2.6" fill="#009688"/>
<rect x="140.0" y="754.4" width="4.7" height="3.1" fill="#009688"/>
<rect x="145.2" y="753.9" width="4.7" height="3.6" fill="#009688"/>
<rect x="150.4" y="753.3" width="4.7" height="4.2" fill="#009688"/>
<rect x="155.6" y="752.6" width="4.7" height="4.9" fill="#009688"/>
<rect x="160.8" y="751.7" width="4.7" height="5.8" fill="#009688"/>
<rect x="166.0" y="751.1" width="4.7" height="6.4" fill="#009688"/>
<rect x="171.2" y="750.6" width="4.7" height="6.9" fill="#009688"/>
<rect x="176.4" y="750.5" width="4.7" height="7.0" fill="#009688"/>
<rect x="181.7" y="750.5" width="4.7" height="7.0" fill="#F44336"/>
<rect x="186.9" y="750.8" width="4.7" height="6.7" fill="#F44336"/>
<rect x="192.1" y="751.4" width="4.7" height="6.1" fill="#F44336"/>
<rect x="197.3" y="751.8" width="4.7" height="5.7" fill="#F44336"/>
<rect x="202.5" y="752.0" width="4.7" height="5.5" fill="#F44336"/>
<rect x="207.7" y="752.0" width="4.7" height="5.5" fill="#F44336"/>
<rect x="212.9" y="752.0" width="4.7" height="5.5" fill="#F44336"/>
<rect x="218.1" y="751.4" width="4.7" height="6.1" fill="#009688"/>
<rect x="223.3" y="750.7" width="4.7" height="6.8" fill="#009688"/>
<rect x="228.5" y="750.2" width="4.7" height="7.3" fill="#009688"/>
<rect x="233.7" y="749.4" width="4.7" height="8.1" fill="#009688"/>
<rect x="238.9" y="748.2" width="4.7" height="9.3" fill="#009688"/>
<rect x="244.1" y="747.0" width="4.7" height="10.5" fill="#009688"/>
<rect x="249.3" y="745.6" width="4.7" height="11.9" fill="#009688"/>
<rect x="254.5" y="743.9" width="4.7" height="13.6" fill="#009688"/>
<rect x="259.7" y="742.5" width="4.7" height="15.0" fill="#009688"/>
<rect x="264.9" y="742.0" width="4.7" height="15.5" fill="#009688"/>
<rect x="270.1" y="742.0" width="4.7" height="15.5" fill="#F44336"/>
<rect x="275.3" y="741.7" width="4.7" height="15.8" fill="#009688"/>
<rect x="280.5" y="741.8" width="4.7" height="15.7" fill="#F44336"/>
<rect x="285.7" y="741.9" width="4.7" height="15.6" fill="#F44336"/>
<rect x="290.9" y="741.5" width="4.7" height="16.0" fill="#009688"/>
<rect x="296.1" y="741.3" width="4.7" height="16.2" fill="#009688"/>
<rect x="301.3" y="740.7" width="4.7" height="16.8" fill="#009688"/>
<rect x="306.5" y="739.8" width="4.7" height="17.7" fill="#009688"/>
<rect x="311.7" y="739.4" width="4.7" height="18.1" fill="#009688"/>
<rect x="316.9" y="739.5" width="4.7" height="18.0" fill="#F44336"/>
<rect x="322.1" y="739.5" width="4.7" height="18.0" fill="#009688"/>
<rect x="327.3" y="740.1" width="4.7" height="17.4" fill="#F44336"/>
<rect x="332.5" y="741.5" width="4.7" height="16.0" fill="#F44336"/>
<rect x="337.7" y="742.1" width="4.7" height="15.4" fill="#F44336"/>
<rect x="342.9" y="742.7" width="4.7" height="14.8" fill="#F44336"/>
<rect x="348.1" y="743.8" width="4.7" height="13.7" fill="#F44336"/>
<rect x="353.3" y="745.0" width="4.7" height="12.5" fill="#F44336"/>
<rect x="358.5" y="745.1" width="4.7" height="12.4" fill="#F44336"/>
<rect x="363.7" y="745.4" width="4.7" height="12.1" fill="#F44336"/>
<rect x="368.9" y="745.2" width="4.7" height="12.3" fill="#009688"/>
<rect x="374.1" y="744.5" width="4.7" height="13.0" fill="#009688"/>
<rect x="379.3" y="744.2" width="4.7" height="13.3" fill="#009688"/>
<rect x="384.5" y="744.4" width="4.7" height="13.1" fill="#F44336"/>
<rect x="389.7" y="745.1" width="4.7" height="12.4" fill="#F44336"/>
<rect x="394.9" y="746.2" width="4.7" height="11.3" fill="#F44336"/>
<rect x="400.1" y="747.0" width="4.7" height="10.5" fill="#F44336"/>
<rect x="405.3" y="748.0" width="4.7" height="9.5" fill="#F44336"/>
<rect x="410.5" y="749.1" width="4.7" height="8.4" fill="#F44336"/>
<rect x="415.7" y="749.5" width="4.7" height="8.0" fill="#F44336"/>
<rect x="420.9" y="750.1" width="4.7" height="7.4" fill="#F44336"/>
<rect x="426.1" y="750.6" width="4.7" height="6.9" fill="#F44336"/>
<rect x="431.3" y="751.1" width="4.7" height="6.4" fill="#F44336"/>
<rect x="436.5" y="750.7" width="4.7" height="6.8" fill="#009688"/>
<rect x="441.7" y="750.7" width="4.7" height="6.8" fill="#F44336"/>
<rect x="446.9" y="751.6" width="4.7" height="5.9" fill="#F44336"/>
<rect x="452.1" y="752.8" width="4.7" height="4.7" fill="#F44336"/>
<rect x="457.3" y="753.4" width="4.7" height="4.1" fill="#F44336"/>
<rect x="462.4" y="754.7" width="4.7" height="2.8" fill="#F44336"/>
<rect x="467.6" y="755.7" width="4.7" height="1.8" fill="#F44336"/>
<rect x="472.8" y="755.4" width="4.7" height="2.1" fill="#009688"/>
<rect x="478.0" y="754.7" width="4.7" height="2.8" fill="#009688"/>
<rect x="483.2" y="754.6" width="4.7" height="2.9" fill="#009688"/>
<rect x="488.3" y="754.6" width="4.7" height="2.9" fill="#009688"/>
<rect x="493.5" y="754.7" width="4.7" height="2.8" fill="#F44336"/>
<rect x="498.7" y="755.3" width="4.7" height="2.2" fill="#F44336"/>
<rect x="503.9" y="756.0" width="4.7" height="1.5" fill="#F44336"/>
<rect x="509.1" y="757.5" width="4.7" height="1.2" fill="#F44336"/>
<rect x="514.2" y="757.5" width="4.7" height="1.2" fill="#F44336"/>
<rect x="519.4" y="757.5" width="4.7" height="1.7" fill="#F44336"/>
<rect x="524.6" y="757.5" width="4.7" height="1.9" fill="#F44336"/>
<rect x="529.8" y="757.5" width="4.7" height="1.8" fill="#009688"/>
<rect x="535.0" y="757.5" width="4.7" height="1.2" fill="#009688"/>
<rect x="540.1" y="757.5" width="4.7" height="1.2" fill="#009688"/>
<rect x="545.3" y="757.5" width="4.7" height="1.2" fill="#009688"/>
<rect x="550.5" y="757.5" width="4.7" height="1.2" fill="#F44336"/>
<rect x="555.7" y="757.5" width="4.7" height="1.2" fill="#F44336"/>
<rect x="560.9" y="757.5" width="4.7" height="1.2" fill="#009688"/>
<rect x="566.1" y="757.5" width="4.7" height="1.2" fill="#009688"/>
<rect x="571.2" y="757.5" width="4.7" height="1.2" fill="#009688"/>
<rect x="576.4" y="757.5" width="4.7" height="1.2" fill="#009688"/>
<rect x="581.6" y="756.3" width="4.7" height="1.2" fill="#009688"/>
<rect x="586.8" y="755.2" width="4.7" height="2.3" fill="#009688"/>
<rect x="592.0" y="753.6" width="4.7" height="3.9" fill="#009688"/>
<rect x="597.2" y="751.7" width="4.7" height="5.8" fill="#009688"/>
<rect x="602.4" y="749.6" width="4.7" height="7.9" fill="#009688"/>
<rect x="607.6" y="747.6" width="4.7" height="9.9" fill="#009688"/>
<rect x="612.7" y="746.4" width="4.7" height="11.1" fill="#009688"/>
<rect x="617.9" y="745.2" width="4.7" height="12.3" fill="#009688"/>
<rect x="623.1" y="744.8" width="4.7" height="12.7" fill="#009688"/>
<rect x="628.3" y="744.6" width="4.7" height="12.9" fill="#009688"/>
<rect x="633.5" y="744.5" width="4.7" height="13.0" fill="#009688"/>
<rect x="638.7" y="744.3" width="4.7" height="13.2" fill="#009688"/>
<rect x="643.9" y="744.5" width="4.7" height="13.0" fill="#F44336"/>
<rect x="649.0" y="745.4" width="4.7" height="12.1" fill="#F44336"/>
<rect x="654.2" y="746.5" width="4.7" height="11.0" fill="#F44336"/>
<rect x="659.4" y="747.6" width="4.7" height="9.9" fill="#F44336"/>
<rect x="664.6" y="748.4" width="4.7" height="9.1" fill="#F44336"/>
<rect x="669.8" y="748.0" width="4.7" height="9.5" fill="#009688"/>
<rect x="675.1" y="746.3" width="4.7" height="11.2" fill="#009688"/>
<rect x="680.3" y="745.4" width="4.7" height="12.1" fill="#009688"/>
<rect x="685.5" y="744.2" width="4.7" height="13.3" fill="#009688"/>
<rect x="690.7" y="742.9" width="4.7" height="14.6" fill="#009688"/>
<rect x="696.0" y="741.7" width="4.7" height="15.8" fill="#009688"/>
<rect x="701.2" y="740.6" width="4.7" height="16.9" fill="#009688"/>
<rect x="706.4" y="738.9" width="4.7" height="18.6" fill="#009688"/>
<rect x="711.7" y="736.7" width="4.7" height="20.8" fill="#009688"/>
<rect x="716.9" y="735.0" width="4.7" height="22.5" fill="#009688"/>
<rect x="722.1" y="734.3" width="4.7" height="23.2" fill="#009688"/>
<rect x="727.3" y="733.7" width="4.7" height="23.8" fill="#009688"/>
<rect x="732.6" y="732.2" width="4.7" height="25.3" fill="#009688"/>
<rect x="737.8" y="731.9" width="4.7" height="25.6" fill="#009688"/>
<rect x="743.0" y="730.8" width="4.7" height="26.7" fill="#009688"/>
<rect x="748.2" y="729.4" width="4.7" height="28.1" fill="#009688"/>
<rect x="753.5" y="728.8" width="4.7" height="28.7" fill="#009688"/>
<rect x="758.7" y="728.6" width="4.7" height="28.9" fill="#009688"/>
<rect x="763.9" y="728.0" width="4.7" height="29.5" fill="#009688"/>
<rect x="769.0" y="730.4" width="4.7" height="27.1" fill="#F44336"/>
<rect x="774.2" y="732.4" width="4.7" height="25.1" fill="#F44336"/>
<rect x="779.3" y="735.2" width="4.7" height="22.3" fill="#F44336"/>
<rect x="784.5" y="738.1" width="4.7" height="19.4" fill="#F44336"/>
<rect x="789.7" y="740.0" width="4.7" height="17.5" fill="#F44336"/>
<rect x="794.8" y="739.2" width="4.7" height="18.3" fill="#009688"/>
<rect x="800.0" y="739.2" width="4.7" height="18.3" fill="#009688"/>
<rect x="805.1" y="739.1" width="4.7" height="18.4" fill="#009688"/>
<rect x="810.3" y="739.9" width="4.7" height="17.6" fill="#F44336"/>
<rect x="815.5" y="742.5" width="4.7" height="15.0" fill="#F44336"/>
<rect x="820.6" y="746.1" width="4.7" height="11.4" fill="#F44336"/>
<rect x="825.8" y="748.9" width="4.7" height="8.6" fill="#F44336"/>
<rect x="830.9" y="752.1" width="4.7" height="5.4" fill="#F44336"/>
<rect x="836.1" y="755.4" width="4.7" height="2.1" fill="#F44336"/>
<rect x="841.3" y="757.5" width="4.7" height="1.2" fill="#F44336"/>
<rect x="846.4" y="757.5" width="4.7" height="1.2" fill="#F44336"/>
<rect x="851.6" y="757.5" width="4.7" height="2.2" fill="#F44336"/>
<rect x="856.7" y="757.5" width="4.7" height="1.9" fill="#009688"/>
<rect x="861.9" y="757.5" width="4.7" height="1.8" fill="#009688"/>
<rect x="867.1" y="757.5" width="4.7" height="1.5" fill="#009688"/>
<rect x="872.3" y="757.5" width="4.7" height="1.2" fill="#009688"/>
<rect x="877.5" y="757.5" width="4.7" height="1.2" fill="#F44336"/>
<rect x="882.7" y="757.5" width="4.7" height="1.2" fill="#009688"/>
<rect x="887.9" y="755.9" width="4.7" height="1.6" fill="#009688"/>
<rect x="893.1" y="754.2" width="4.7" height="3.3" fill="#009688"/>
<rect x="898.3" y="753.2" width="4.7" height="4.3" fill="#009688"/>
<rect x="903.5" y="751.9" width="4.7" height="5.6" fill="#009688"/>
<rect x="908.7" y="750.9" width="4.7" height="6.6" fill="#009688"/>
<rect x="913.9" y="751.5" width="4.7" height="6.0" fill="#F44336"/>
<rect x="919.2" y="752.7" width="4.7" height="4.8" fill="#F44336"/>
<rect x="924.4" y="754.1" width="4.7" height="3.4" fill="#F44336"/>
<rect x="929.6" y="755.7" width="4.7" height="1.8" fill="#F44336"/>
<rect x="934.8" y="756.3" width="4.7" height="1.2" fill="#F44336"/>
<rect x="940.0" y="756.3" width="4.7" height="1.2" fill="#009688"/>
<rect x="945.2" y="756.0" width="4.7" height="1.5" fill="#009688"/>
<rect x="950.4" y="755.0" width="4.7" height="2.5" fill="#009688"/>
<rect x="955.6" y="753.7" width="4.7" height="3.8" fill="#009688"/>
<rect x="960.8" y="751.9" width="4.7" height="5.6" fill="#009688"/>
<rect x="966.0" y="750.6" width="4.7" height="6.9" fill="#009688"/>
<rect x="971.2" y="749.0" width="4.7" height="8.5" fill="#009688"/>
<rect x="976.4" y="745.6" width="4.7" height="11.9" fill="#009688"/>
<rect x="981.6" y="741.9" width="4.7" height="15.6" fill="#009688"/>
<rect x="986.9" y="737.9" width="4.7" height="19.6" fill="#009688"/>
<rect x="992.1" y="734.2" width="4.7" height="23.3" fill="#009688"/>
<rect x="997.3" y="731.9" width="4.7" height="25.6" fill="#009688"/>
<rect x="1002.5" y="730.5" width="4.7" height="27.0" fill="#009688"/>
<rect x="1007.7" y="729.4" width="4.7" height="28.1" fill="#009688"/>
<rect x="1013.0" y="729.1" width="4.7" height="28.4" fill="#009688"/>
<rect x="1018.2" y="728.4" width="4.7" height="29.1" fill="#009688"/>
<rect x="1023.4" y="726.5" width="4.7" height="31.0" fill="#009688"/>
<rect x="1028.6" y="724.7" width="4.7" height="32.8" fill="#009688"/>
<rect x="1033.8" y="723.7" width="4.7" height="33.8" fill="#009688"/>
<rect x="1039.0" y="723.4" width="4.7" height="34.1" fill="#009688"/>
<rect x="1044.3" y="722.4" width="4.7" height="35.1" fill="#009688"/>
<rect x="1049.5" y="722.3" width="4.7" height="35.2" fill="#009688"/>
<rect x="1054.7" y="722.7" width="4.7" height="34.8" fill="#F44336"/>
<rect x="1059.9" y="723.2" width="4.7" height="34.3" fill="#F44336"/>
<rect x="1065.1" y="721.3" width="4.7" height="36.2" fill="#009688"/>
<rect x="1070.4" y="720.8" width="4.7" height="36.7" fill="#009688"/>
<rect x="1075.6" y="719.2" width="4.7" height="38.3" fill="#009688"/>
<rect x="1080.8" y="720.0" width="4.7" height="37.5" fill="#F44336"/>
<rect x="1086.0" y="719.2" width="4.7" height="38.3" fill="#009688"/>
<rect x="1091.1" y="719.5" width="4.7" height="38.0" fill="#F44336"/>
<rect x="1096.3" y="720.9" width="4.7" height="36.6" fill="#F44336"/>
<rect x="1101.5" y="726.1" width="4.7" height="31.4" fill="#F44336"/>
<rect x="1106.6" y="725.5" width="4.7" height="32.0" fill="#009688"/>
<rect x="1111.8" y="726.4" width="4.7" height="31.1" fill="#F44336"/>
<rect x="1117.0" y="728.6" width="4.7" height="28.9" fill="#F44336"/>
<rect x="1122.1" y="728.1" width="4.7" height="29.4" fill="#009688"/>
<rect x="1127.3" y="724.0" width="4.7" height="33.5" fill="#009688"/>
<rect x="1132.4" y="722.3" width="4.7" height="35.2" fill="#009688"/>
<rect x="1137.6" y="719.7" width="4.7" height="37.8" fill="#009688"/>
<rect x="1142.8" y="715.8" width="4.7" height="41.7" fill="#009688"/>
<rect x="1147.9" y="713.5" width="4.7" height="44.0" fill="#009688"/>
<rect x="1153.1" y="709.6" width="4.7" height="47.9" fill="#009688"/>
<rect x="1158.3" y="705.6" width="4.7" height="51.9" fill="#009688"/>
<rect x="1163.4" y="702.4" width="4.7" height="55.1" fill="#009688"/>
<rect x="1168.6" y="703.5" width="4.7" height="54.0" fill="#F44336"/>
<rect x="1174.5" y="711.7" width="4.7" height="45.8" fill="#F44336"/>
<g stroke="#E0E3EB" stroke-width="1" shape-rendering="crispEdges">
<line x1="0" y1="641.5" x2="1522" y2="641.5"/>
<line x1="0" y1="792.5" x2="1522" y2="792.5"/>
<line x1="0" y1="825.5" x2="1522" y2="825.5" stroke="#E3E3E7"/>
<line x1="1463.5" y1="0" x2="1463.5" y2="851" stroke="#E3E4E8"/>
</g>
<g fill="#151515" stroke="#fff" stroke-width="3" stroke-linejoin="round" paint-order="stroke"><path d="M8.9 764.5H21V778.6H15.1V769.7H8.9Z"/><circle cx="25.6" cy="767.1" r="2.6"/><path d="M31.3 764.5H37.5L31.5 778.6H25.2Z"/>
<text x="45.3" y="778.6" font-family="Liberation Sans, sans-serif" font-weight="bold" font-size="19.7" textLength="114.4" lengthAdjust="spacingAndGlyphs">TradingView</text></g>
<g transform="translate(1495,838.5)" fill="none" stroke="#4A4A4A" stroke-width="1.25" stroke-linejoin="round"><path d="M-3.3 -5.9H3.3L6.7 0L3.3 5.9H-3.3L-6.7 0Z"/><circle r="2.1"/></g>
</svg>
<div class="pane" style="left:1464px;top:0;width:58px;height:641px;">
<div class="t" id="ax2200" style="left:8.2px;top:632.3px;font-size:10.8px;color:#20242F;letter-spacing:0.281px;">2,200.00</div>
<div class="t" id="ax2400" style="left:8.2px;top:603.1px;font-size:10.8px;color:#20242F;letter-spacing:0.281px;">2,400.00</div>
<div class="t" id="ax2600" style="left:8.2px;top:573.9px;font-size:10.8px;color:#20242F;letter-spacing:0.281px;">2,600.00</div>
<div class="t" id="ax2800" style="left:8.2px;top:544.7px;font-size:10.8px;color:#20242F;letter-spacing:0.281px;">2,800.00</div>
<div class="t" id="ax3000" style="left:8.2px;top:515.5px;font-size:10.8px;color:#20242F;letter-spacing:0.281px;">3,000.00</div>
<div class="t" id="ax3200" style="left:8.2px;top:486.4px;font-size:10.8px;color:#20242F;letter-spacing:0.281px;">3,200.00</div>
<div class="t" id="ax3400" style="left:8.2px;top:457.2px;font-size:10.8px;color:#20242F;letter-spacing:0.281px;">3,400.00</div>
<div class="t" id="ax3600" style="left:8.2px;top:428.0px;font-size:10.8px;color:#20242F;letter-spacing:0.281px;">3,600.00</div>
<div class="t" id="ax3800" style="left:8.2px;top:398.8px;font-size:10.8px;color:#20242F;letter-spacing:0.281px;">3,800.00</div>
<div class="t" id="ax4000" style="left:8.2px;top:369.6px;font-size:10.8px;color:#20242F;letter-spacing:0.281px;">4,000.00</div>
<div class="t" id="ax4200" style="left:8.2px;top:340.4px;font-size:10.8px;color:#20242F;letter-spacing:0.281px;">4,200.00</div>
<div class="t" id="ax4400" style="left:8.2px;top:311.3px;font-size:10.8px;color:#20242F;letter-spacing:0.281px;">4,400.00</div>
<div class="t" id="ax4600" style="left:8.2px;top:282.1px;font-size:10.8px;color:#20242F;letter-spacing:0.281px;">4,600.00</div>
<div class="t" id="ax4800" style="left:8.2px;top:252.9px;font-size:10.8px;color:#20242F;letter-spacing:0.281px;">4,800.00</div>
<div class="t" id="ax5000" style="left:8.2px;top:223.7px;font-size:10.8px;color:#20242F;letter-spacing:0.281px;">5,000.00</div>
<div class="t" id="ax5200" style="left:8.2px;top:194.5px;font-size:10.8px;color:#20242F;letter-spacing:0.281px;">5,200.00</div>
<div class="t" id="ax5400" style="left:8.2px;top:165.3px;font-size:10.8px;color:#20242F;letter-spacing:0.281px;">5,400.00</div>
<div class="t" id="ax5600" style="left:8.2px;top:136.2px;font-size:10.8px;color:#20242F;letter-spacing:0.281px;">5,600.00</div>
<div class="t" id="ax5800" style="left:8.2px;top:107.0px;font-size:10.8px;color:#20242F;letter-spacing:0.281px;">5,800.00</div>
<div class="t" id="ax6000" style="left:8.2px;top:77.8px;font-size:10.8px;color:#20242F;letter-spacing:0.281px;">6,000.00</div>
<div class="t" id="ax6200" style="left:8.2px;top:48.6px;font-size:10.8px;color:#20242F;letter-spacing:0.281px;">6,200.00</div>
</div>
<div class="pane" style="left:1464px;top:642px;width:58px;height:150px;">
<div class="t" id="ao0" style="left:8.2px;top:143.3px;font-size:10.8px;color:#20242F;letter-spacing:0.026px;">−500.00</div>
<div class="t" id="ao500" style="left:8.2px;top:110.2px;font-size:10.8px;color:#20242F;letter-spacing:0.328px;">0.00</div>
<div class="t" id="ao1000" style="left:8.2px;top:77.1px;font-size:10.8px;color:#20242F;letter-spacing:0.034px;">500.00</div>
<div class="t" id="ao1500" style="left:8.2px;top:44.0px;font-size:10.8px;color:#20242F;letter-spacing:0.281px;">1,000.00</div>
<div class="t" id="ao2000" style="left:8.2px;top:10.9px;font-size:10.8px;color:#20242F;letter-spacing:0.281px;">1,500.00</div>
</div>
<div class="lab" style="left:1464px;top:208.0px;width:57.5px;background:#F23645;"></div>
<div class="t" id="l1" style="left:1471.6px;top:209.8px;font-size:10.6px;color:#fff;font-weight:bold;letter-spacing:0.479px;">5,093.54</div>
<div class="lab" style="left:1426px;top:207.9px;width:36.9px;height:16px;background:#F23645;border-radius:2px 0 0 2px;"></div>
<div class="t" id="kospi" style="left:1430.1px;top:211.0px;font-size:10.6px;color:#fff;transform:scaleX(0.9015);transform-origin:0 0;">KOSPI</div>
<div class="lab" style="left:1464px;top:299.2px;width:57.5px;background:#F57C00;"></div>
<div class="t" id="l2" style="left:1471.6px;top:301.1px;font-size:10.6px;color:#fff;font-weight:bold;letter-spacing:0.479px;">4,472.95</div>
<div class="lab" style="left:1464px;top:323.1px;width:57.5px;background:#2D2D2D;"></div>
<div class="t" id="l3" style="left:1471.6px;top:324.9px;font-size:10.6px;color:#fff;font-weight:bold;letter-spacing:0.479px;">4,309.28</div>
<div class="lab" style="left:1464px;top:512.8px;width:57.5px;background:#434651;"></div>
<div class="t" id="l4" style="left:1471.6px;top:514.6px;font-size:10.6px;color:#fff;font-weight:bold;letter-spacing:0.479px;">3,008.48</div>
<div class="b" style="left:1467.4px;top:4.3px;width:54px;height:23.3px;border:1px solid #E0E3EB;border-radius:4px;background:#fff;"></div>
<div class="t" id="krw" style="left:1471.2px;top:10.4px;font-size:10.8px;color:#20242F;transform:scaleX(0.8600);transform-origin:0 0;">KRW</div>
<svg style="position:absolute;left:1510px;top:13.4px" width="8" height="6" viewBox="0 0 8 6"><path d="M1.5 1.5L4 4L6.5 1.5" fill="none" stroke="#131722" stroke-width="1.1"/></svg>
<div class="t" id="tm0" style="left:9.0px;top:832.3px;font-size:10.8px;color:#20242F;letter-spacing:-0.406px;">Apr</div>
<div class="t" id="tm1" style="left:121.3px;top:832.3px;font-size:10.8px;color:#20242F;letter-spacing:-0.203px;">May</div>
<div class="t" id="tm2" style="left:222.0px;top:832.3px;font-size:10.8px;color:#20242F;letter-spacing:0.139px;">Jun</div>
<div class="t" id="tm3" style="left:322.0px;top:832.3px;font-size:10.8px;color:#20242F;letter-spacing:0.594px;">Jul</div>
<div class="t" id="tm4" style="left:439.4px;top:832.3px;font-size:10.8px;color:#20242F;letter-spacing:-0.309px;">Aug</div>
<div class="t" id="tm5" style="left:543.3px;top:832.3px;font-size:10.8px;color:#20242F;letter-spacing:-0.109px;">Sep</div>
<div class="t" id="tm6" style="left:658.0px;top:832.3px;font-size:10.8px;color:#20242F;letter-spacing:0.402px;">Oct</div>
<div class="t" id="tm7" style="left:751.3px;top:832.3px;font-size:10.8px;color:#20242F;letter-spacing:-0.352px;">Nov</div>
<div class="t" id="tm8" style="left:855.6px;top:832.3px;font-size:10.8px;color:#20242F;letter-spacing:-0.102px;">Dec</div>
<div class="t" id="tm9" style="left:961.0px;top:832.3px;font-size:10.8px;color:#20242F;font-weight:bold;letter-spacing:0.890px;">2026</div>
<div class="t" id="tm10" style="left:1074.0px;top:832.3px;font-size:10.8px;color:#20242F;letter-spacing:-0.055px;">Feb</div>
<div class="t" id="tm11" style="left:1162.4px;top:832.3px;font-size:10.8px;color:#20242F;letter-spacing:-0.055px;">Mar</div>
<div class="t" id="tm12" style="left:1271.9px;top:832.3px;font-size:10.8px;color:#20242F;letter-spacing:0.544px;">Apr</div>
<div class="t" id="tm13" style="left:1385.4px;top:832.3px;font-size:10.8px;color:#20242F;letter-spacing:-0.403px;">May</div>
<div class="b" style="left:6.6px;top:7px;width:17.4px;height:17.4px;border-radius:50%;background:#2A9DC4;"></div>
<svg style="position:absolute;left:6.6px;top:7px" width="17.4" height="17.4" viewBox="0 0 17 17"><path d="M4.2 9.5A4.6 4.6 0 0 1 9.5 4.4" fill="none" stroke="#F9C74F" stroke-width="1.5" stroke-linecap="round"/><path d="M10 4.6A4.6 4.6 0 0 1 12 11.5" fill="none" stroke="#fff" stroke-width="1.3" stroke-linecap="round"/></svg>
<div class="t" id="title" style="left:27.9px;top:8.7px;font-size:14.4px;color:#131722;letter-spacing:-0.237px;">KOSPI Composite Index · 1D · KRX</div>
<div class="b" style="left:258.1px;top:6.9px;width:18.8px;height:17px;background:#F0F0F0;border-radius:8.5px 0 0 8.5px;"></div>
<div class="b" style="left:276.9px;top:6.9px;width:19px;height:17px;background:#FBE0E9;border-radius:0 8.5px 8.5px 0;"></div>
<div class="b" style="left:263px;top:13.1px;width:10px;height:3.9px;border-radius:2px;background:#9E9E9E;"></div>
<div class="t" id="approx" style="left:280.9px;top:7.7px;font-size:14.6px;color:#DC1460;font-weight:bold;">≈</div>
<div class="t" id="oh0" style="left:303.3px;top:10.0px;font-size:11.7px;color:#131722;transform:scaleX(0.9017);transform-origin:0 0;">O</div>
<div class="t" id="oh1" style="left:312.9px;top:10.0px;font-size:11.7px;color:#F23645;letter-spacing:0.286px;">5,592.59</div>
<div class="t" id="oh2" style="left:365.9px;top:10.0px;font-size:11.7px;color:#131722;transform:scaleX(0.8991);transform-origin:0 0;">H</div>
<div class="t" id="oh3" style="left:375.6px;top:10.0px;font-size:11.7px;color:#F23645;letter-spacing:0.271px;">5,672.12</div>
<div class="t" id="oh4" style="left:429.4px;top:10.0px;font-size:11.7px;color:#131722;transform:scaleX(0.8595);transform-origin:0 0;">L</div>
<div class="t" id="oh5" style="left:436.3px;top:10.0px;font-size:11.7px;color:#F23645;letter-spacing:0.200px;">5,059.45</div>
<div class="t" id="oh6" style="left:489.5px;top:10.0px;font-size:11.7px;color:#131722;transform:scaleX(0.8518);transform-origin:0 0;">C</div>
<div class="t" id="oh7" style="left:498.3px;top:10.0px;font-size:11.7px;color:#F23645;letter-spacing:0.286px;">5,093.54</div>
<div class="t" id="oh8" style="left:552.7px;top:10.0px;font-size:11.7px;color:#F23645;letter-spacing:-0.063px;">−698.37</div>
<div class="t" id="oh9" style="left:599.9px;top:10.0px;font-size:11.7px;color:#F23645;letter-spacing:-0.331px;">(−12.06%)</div>
<div class="b" style="left:7.3px;top:30.2px;width:68.7px;height:32.6px;border:1.1px solid #F23645;border-radius:5px;background:#fff;"></div>
<div class="t" id="sp" style="left:17.9px;top:34.1px;font-size:10.8px;color:#F23645;font-weight:bold;letter-spacing:0.824px;">5,093.54</div>
<div class="t" id="sl" style="left:29.0px;top:47.2px;font-size:10.8px;color:#F23645;transform:scaleX(0.9235);transform-origin:0 0;">SELL</div>
<div class="t" id="zero" style="left:83.8px;top:41.0px;font-size:10.8px;color:#131722;letter-spacing:0.328px;">0.00</div>
<div class="b" style="left:114.2px;top:30.2px;width:68.8px;height:32.6px;border:1.1px solid #2962FF;border-radius:5px;background:#fff;"></div>
<div class="t" id="bp" style="left:124.4px;top:34.1px;font-size:10.8px;color:#2962FF;font-weight:bold;letter-spacing:0.824px;">5,093.54</div>
<div class="t" id="bl" style="left:137.4px;top:47.2px;font-size:10.8px;color:#2962FF;transform:scaleX(0.9458);transform-origin:0 0;">BUY</div>
<div class="t" id="alli" style="left:7.4px;top:72.2px;font-size:11.7px;color:#131722;letter-spacing:0.294px;">Alligator 13 8 5 8 5 3</div>
<div class="b" style="left:129.0px;top:69.0px;width:16.8px;height:16.8px;border-radius:50%;background:#E7DDFD;"></div>
<svg style="position:absolute;left:129.0px;top:69.0px" width="16.8" height="16.8" viewBox="-8.4 -8.4 16.8 16.8"><g transform="translate(-0.1,0.6) scale(1.06)"><g fill="none" stroke="#5B1FF5" stroke-width="1.45"><path d="M-4.9 -1.5A4.9 4.7 0 0 1 4.0 -2.5"/><path d="M4.3 1.7A4.9 4.7 0 0 1 -4.4 2.5"/></g><path d="M1.3 -2.9L6.2 -1.2L3.9 1.2Z M-2.9 0.5L-7.4 2.0L-4.0 3.4Z" fill="#5B1FF5"/></g></svg>
<div class="t" id="v1" style="left:153.7px;top:72.2px;font-size:11.7px;color:#2962FF;letter-spacing:0.229px;">5,483.35</div>
<div class="t" id="v2" style="left:207.3px;top:72.2px;font-size:11.7px;color:#E91E63;letter-spacing:0.229px;">5,685.47</div>
<div class="t" id="v3" style="left:261.0px;top:72.2px;font-size:11.7px;color:#4CAF50;letter-spacing:0.229px;">5,800.02</div>
<div class="b" style="left:7.3px;top:92.3px;width:26.3px;height:19.6px;border:1px solid #D6D6D6;border-radius:3px;background:#fff;"></div>
<svg style="position:absolute;left:16.1px;top:98.5px" width="9" height="7" viewBox="0 0 9 7"><path d="M1.2 5.2L4.5 1.9L7.8 5.2" fill="none" stroke="#131722" stroke-width="1.4"/></svg>
<div class="t" id="aol" style="left:6.9px;top:652.0px;font-size:11.7px;color:#131722;transform:scaleX(0.8999);transform-origin:0 0;">AO</div>
<div class="b" style="left:30.2px;top:649.1px;width:16.8px;height:16.8px;border-radius:50%;background:#E7DDFD;"></div>
<svg style="position:absolute;left:30.2px;top:649.1px" width="16.8" height="16.8" viewBox="-8.4 -8.4 16.8 16.8"><g transform="translate(-0.1,0.6) scale(1.06)"><g fill="none" stroke="#5B1FF5" stroke-width="1.45"><path d="M-4.9 -1.5A4.9 4.7 0 0 1 4.0 -2.5"/><path d="M4.3 1.7A4.9 4.7 0 0 1 -4.4 2.5"/></g><path d="M1.3 -2.9L6.2 -1.2L3.9 1.2Z M-2.9 0.5L-7.4 2.0L-4.0 3.4Z" fill="#5B1FF5"/></g></svg>
<div class="t" id="aov" style="left:55.0px;top:652.0px;font-size:11.7px;color:#F44336;letter-spacing:0.110px;">698.99</div>
<div class="t" id="rsi" style="left:7.2px;top:803.2px;font-size:11.7px;color:#131722;letter-spacing:-0.270px;">RSI 14 close</div>
<div class="b" style="left:78.8px;top:800px;width:19.2px;height:17px;background:#FFE3E6;border-radius:8.5px 0 0 8.5px;"></div>
<div class="b" style="left:98px;top:800px;width:19px;height:17px;background:#E7DDFD;border-radius:0 8.5px 8.5px 0;"></div>
<div class="t" id="bang" style="left:86.5px;top:802.3px;font-size:12.5px;color:#E0263C;font-weight:bold;">!</div>
<svg style="position:absolute;left:97.6px;top:800.1px" width="16.8" height="16.8" viewBox="-8.4 -8.4 16.8 16.8"><g transform="translate(-0.1,0.6) scale(1.06)"><g fill="none" stroke="#5B1FF5" stroke-width="1.45"><path d="M-4.9 -1.5A4.9 4.7 0 0 1 4.0 -2.5"/><path d="M4.3 1.7A4.9 4.7 0 0 1 -4.4 2.5"/></g><path d="M1.3 -2.9L6.2 -1.2L3.9 1.2Z M-2.9 0.5L-7.4 2.0L-4.0 3.4Z" fill="#5B1FF5"/></g></svg>
</body></html>
